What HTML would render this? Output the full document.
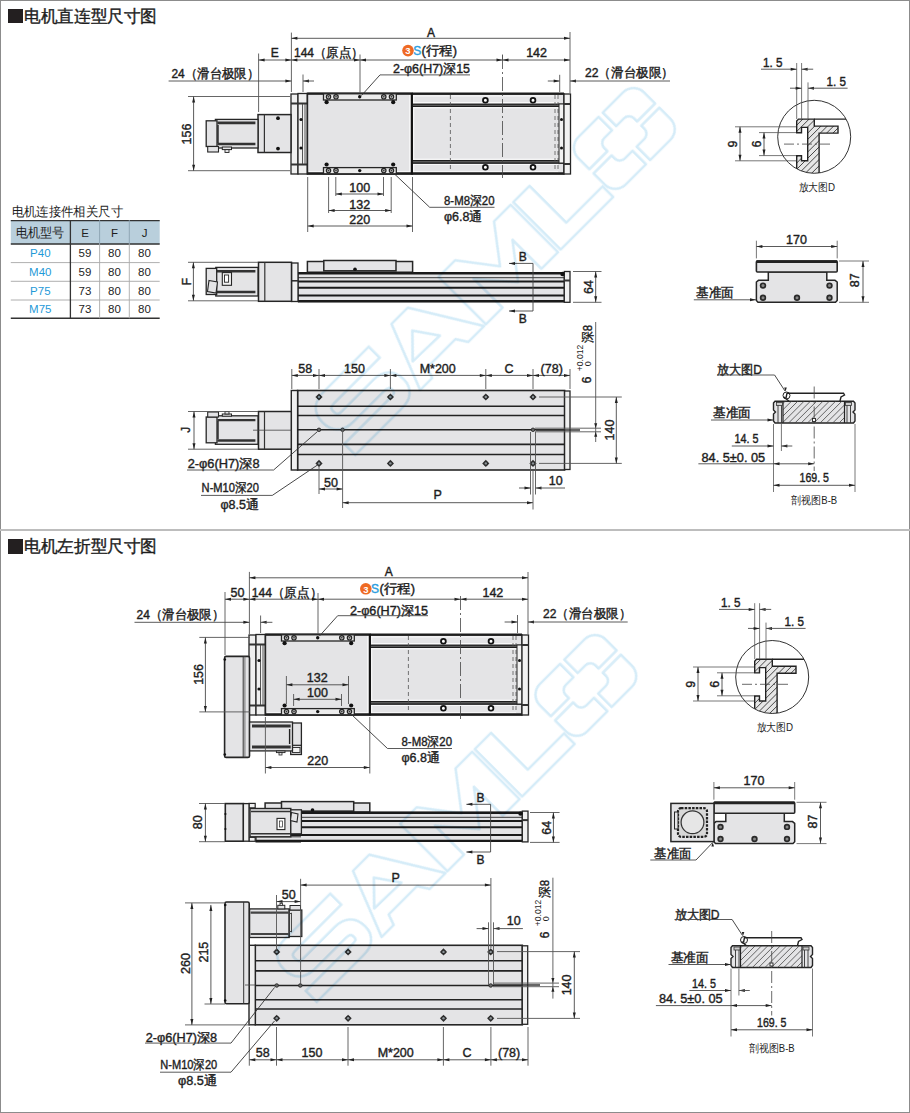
<!DOCTYPE html>
<html><head><meta charset="utf-8"><style>
html,body{margin:0;padding:0;background:#fff;}
svg{display:block;font-family:"Liberation Sans",sans-serif;}
</style></head><body>
<svg width="910" height="1113" viewBox="0 0 910 1113">
<rect x="0" y="0" width="910" height="1113" fill="#fff"/>
<rect x="0.5" y="0.5" width="909" height="1112" fill="none" stroke="#8c8c8c" stroke-width="1"/>
<rect x="0" y="529" width="910" height="2" fill="#bdbdbd"/>
<rect x="8" y="9" width="15" height="14" fill="#231f20"/>
<text x="24" y="21.94" font-size="16.5" text-anchor="start" fill="#1e1e1e" font-weight="normal" stroke="#1e1e1e" stroke-width="0.4" textLength="133" lengthAdjust="spacingAndGlyphs" >电机直连型尺寸图</text>
<rect x="8" y="539" width="15" height="15" fill="#231f20"/>
<text x="24" y="552.44" font-size="16.5" text-anchor="start" fill="#1e1e1e" font-weight="normal" stroke="#1e1e1e" stroke-width="0.4" textLength="133" lengthAdjust="spacingAndGlyphs" >电机左折型尺寸图</text>
<text x="11.6" y="215.50" font-size="12.5" text-anchor="start" fill="#1e1e1e" font-weight="normal" textLength="111.4" lengthAdjust="spacingAndGlyphs" >电机连接件相关尺寸</text>
<rect x="10.8" y="220.2" width="148.9" height="24" fill="#b9cfdc"/>
<line x1="10.8" y1="220.6" x2="159.7" y2="220.6" stroke="#333" stroke-width="1.4" />
<line x1="10.8" y1="244" x2="159.7" y2="244" stroke="#333" stroke-width="1.4" />
<line x1="10.8" y1="318.3" x2="159.7" y2="318.3" stroke="#333" stroke-width="1.4" />
<line x1="10.8" y1="262.6" x2="159.7" y2="262.6" stroke="#9a9a9a" stroke-width="0.8" />
<line x1="10.8" y1="281.3" x2="159.7" y2="281.3" stroke="#9a9a9a" stroke-width="0.8" />
<line x1="10.8" y1="300" x2="159.7" y2="300" stroke="#9a9a9a" stroke-width="0.8" />
<line x1="70.4" y1="220.2" x2="70.4" y2="318.3" stroke="#333" stroke-width="1.3" />
<line x1="99.6" y1="220.2" x2="99.6" y2="244" stroke="#8fa6b4" stroke-width="1.0" />
<line x1="99.6" y1="244" x2="99.6" y2="318.3" stroke="#aaa" stroke-width="0.9" />
<line x1="129.3" y1="220.2" x2="129.3" y2="244" stroke="#8fa6b4" stroke-width="1.0" />
<line x1="129.3" y1="244" x2="129.3" y2="318.3" stroke="#aaa" stroke-width="0.9" />
<text x="40.2" y="237.18" font-size="13" text-anchor="middle" fill="#1e1e1e" font-weight="normal" textLength="48.5" lengthAdjust="spacingAndGlyphs" >电机型号</text>
<text x="85" y="236.64" font-size="11.5" text-anchor="middle" fill="#1e1e1e" font-weight="normal" >E</text>
<text x="114.4" y="236.64" font-size="11.5" text-anchor="middle" fill="#1e1e1e" font-weight="normal" >F</text>
<text x="144.5" y="236.64" font-size="11.5" text-anchor="middle" fill="#1e1e1e" font-weight="normal" >J</text>
<text x="40.3" y="257.44" font-size="11.5" text-anchor="middle" fill="#1f9ad8" font-weight="normal" >P40</text>
<text x="85" y="257.44" font-size="11.5" text-anchor="middle" fill="#1e1e1e" font-weight="normal" >59</text>
<text x="114.4" y="257.44" font-size="11.5" text-anchor="middle" fill="#1e1e1e" font-weight="normal" >80</text>
<text x="144.5" y="257.44" font-size="11.5" text-anchor="middle" fill="#1e1e1e" font-weight="normal" >80</text>
<text x="40.3" y="276.14" font-size="11.5" text-anchor="middle" fill="#1f9ad8" font-weight="normal" >M40</text>
<text x="85" y="276.14" font-size="11.5" text-anchor="middle" fill="#1e1e1e" font-weight="normal" >59</text>
<text x="114.4" y="276.14" font-size="11.5" text-anchor="middle" fill="#1e1e1e" font-weight="normal" >80</text>
<text x="144.5" y="276.14" font-size="11.5" text-anchor="middle" fill="#1e1e1e" font-weight="normal" >80</text>
<text x="40.3" y="294.84" font-size="11.5" text-anchor="middle" fill="#1f9ad8" font-weight="normal" >P75</text>
<text x="85" y="294.84" font-size="11.5" text-anchor="middle" fill="#1e1e1e" font-weight="normal" >73</text>
<text x="114.4" y="294.84" font-size="11.5" text-anchor="middle" fill="#1e1e1e" font-weight="normal" >80</text>
<text x="144.5" y="294.84" font-size="11.5" text-anchor="middle" fill="#1e1e1e" font-weight="normal" >80</text>
<text x="40.3" y="313.34" font-size="11.5" text-anchor="middle" fill="#1f9ad8" font-weight="normal" >M75</text>
<text x="85" y="313.34" font-size="11.5" text-anchor="middle" fill="#1e1e1e" font-weight="normal" >73</text>
<text x="114.4" y="313.34" font-size="11.5" text-anchor="middle" fill="#1e1e1e" font-weight="normal" >80</text>
<text x="144.5" y="313.34" font-size="11.5" text-anchor="middle" fill="#1e1e1e" font-weight="normal" >80</text>
<rect x="412" y="94" width="152" height="80" fill="#e4e4e6" stroke="#262626" stroke-width="1.5" />
<line x1="413.5" y1="95.9" x2="558" y2="95.9" stroke="#fbfbfb" stroke-width="1.0" />
<line x1="413.5" y1="102.6" x2="558" y2="102.6" stroke="#fbfbfb" stroke-width="1.0" />
<line x1="413.5" y1="107.8" x2="558" y2="107.8" stroke="#fbfbfb" stroke-width="1.0" />
<line x1="413.5" y1="159.2" x2="558" y2="159.2" stroke="#fbfbfb" stroke-width="1.0" />
<line x1="413.5" y1="164.4" x2="558" y2="164.4" stroke="#fbfbfb" stroke-width="1.0" />
<line x1="413.5" y1="171.7" x2="558" y2="171.7" stroke="#fbfbfb" stroke-width="1.0" />
<line x1="413.7" y1="95" x2="413.7" y2="172.5" stroke="#fbfbfb" stroke-width="1.0" />
<rect x="412" y="103.7" width="152" height="3.3" fill="#5a5a5a" stroke="none" stroke-width="0" />
<line x1="412" y1="104.2" x2="564" y2="104.2" stroke="#1e1e1e" stroke-width="1.1" />
<line x1="412" y1="106.5" x2="564" y2="106.5" stroke="#1e1e1e" stroke-width="1.1" />
<rect x="412" y="160.0" width="152" height="3.6" fill="#5a5a5a" stroke="none" stroke-width="0" />
<line x1="412" y1="160.5" x2="564" y2="160.5" stroke="#1e1e1e" stroke-width="1.1" />
<line x1="412" y1="163.1" x2="564" y2="163.1" stroke="#1e1e1e" stroke-width="1.1" />
<line x1="412" y1="93.7" x2="564" y2="93.7" stroke="#1e1e1e" stroke-width="2.2" />
<line x1="412" y1="173.4" x2="564" y2="173.4" stroke="#1e1e1e" stroke-width="2.3" />
<line x1="450.4" y1="95" x2="450.4" y2="173" stroke="#555" stroke-width="0.8" stroke-dasharray="4,3"/>
<line x1="555" y1="95" x2="555" y2="173" stroke="#555" stroke-width="0.8" stroke-dasharray="4,3"/>
<line x1="558" y1="95" x2="558" y2="173" stroke="#555" stroke-width="0.8" stroke-dasharray="4,3"/>
<rect x="559" y="104" width="5" height="59" fill="#f2f2f2" stroke="#262626" stroke-width="1.0" />
<rect x="564" y="94" width="6.5" height="80" fill="#f2f2f2" stroke="#262626" stroke-width="1.3" />
<line x1="564" y1="104" x2="570.5" y2="104" stroke="#333" stroke-width="2" />
<line x1="564" y1="164" x2="570.5" y2="164" stroke="#333" stroke-width="2" />
<circle cx="561.5" cy="119.5" r="1.5" fill="#111" stroke="none" stroke-width="0"/>
<circle cx="561.5" cy="148" r="1.5" fill="#111" stroke="none" stroke-width="0"/>
<circle cx="485.4" cy="100.2" r="2.4" fill="#fff" stroke="#111" stroke-width="1.8"/>
<circle cx="485.4" cy="167.2" r="2.4" fill="#fff" stroke="#111" stroke-width="1.8"/>
<circle cx="533" cy="100.2" r="2.4" fill="#fff" stroke="#111" stroke-width="1.8"/>
<circle cx="533" cy="167.2" r="2.4" fill="#fff" stroke="#111" stroke-width="1.8"/>
<rect x="291" y="94" width="7" height="80" fill="#f0f0f0" stroke="#262626" stroke-width="1.3" />
<rect x="298" y="93.5" width="9.4" height="80.5" fill="#f0f0f0" stroke="#262626" stroke-width="1.3" />
<line x1="291" y1="103.5" x2="307.4" y2="103.5" stroke="#333" stroke-width="2" />
<line x1="291" y1="164.5" x2="307.4" y2="164.5" stroke="#333" stroke-width="2" />
<line x1="302.5" y1="104" x2="302.5" y2="164" stroke="#444" stroke-width="0.9" />
<line x1="305" y1="104" x2="305" y2="164" stroke="#444" stroke-width="0.9" />
<circle cx="301" cy="119.5" r="1.6" fill="#111" stroke="none" stroke-width="0"/>
<circle cx="301" cy="148" r="1.6" fill="#111" stroke="none" stroke-width="0"/>
<rect x="307.4" y="93.5" width="104.6" height="80.5" fill="#e4e4e6" stroke="#262626" stroke-width="1.6" />
<line x1="409.8" y1="95" x2="409.8" y2="172" stroke="#fbfbfb" stroke-width="1.0" />
<line x1="309" y1="171.7" x2="409.8" y2="171.7" stroke="#fbfbfb" stroke-width="1.0" />
<line x1="307.4" y1="93.7" x2="412.5" y2="93.7" stroke="#1e1e1e" stroke-width="2.2" />
<line x1="307.4" y1="173.4" x2="412.5" y2="173.4" stroke="#1e1e1e" stroke-width="2.3" />
<line x1="411.8" y1="93" x2="411.8" y2="174.3" stroke="#111" stroke-width="2.0" />
<rect x="323.5" y="93.8" width="72.8" height="6.2" fill="#ececec" stroke="#262626" stroke-width="1.3" />
<rect x="323.5" y="167.6" width="72.8" height="6.2" fill="#ececec" stroke="#262626" stroke-width="1.3" />
<circle cx="328.5" cy="96.8" r="2.2" fill="#bbb" stroke="#222" stroke-width="1.2"/>
<circle cx="328.5" cy="96.8" r="0.8" fill="#333" stroke="none" stroke-width="0"/>
<circle cx="328.5" cy="170.6" r="2.2" fill="#bbb" stroke="#222" stroke-width="1.2"/>
<circle cx="328.5" cy="170.6" r="0.8" fill="#333" stroke="none" stroke-width="0"/>
<circle cx="336" cy="96.8" r="2.2" fill="#bbb" stroke="#222" stroke-width="1.2"/>
<circle cx="336" cy="96.8" r="0.8" fill="#333" stroke="none" stroke-width="0"/>
<circle cx="336" cy="170.6" r="2.2" fill="#bbb" stroke="#222" stroke-width="1.2"/>
<circle cx="336" cy="170.6" r="0.8" fill="#333" stroke="none" stroke-width="0"/>
<circle cx="359.7" cy="96.8" r="1.7" fill="#111" stroke="none" stroke-width="0"/>
<circle cx="359.7" cy="170.6" r="1.7" fill="#111" stroke="none" stroke-width="0"/>
<circle cx="383.8" cy="96.8" r="2.2" fill="#bbb" stroke="#222" stroke-width="1.2"/>
<circle cx="383.8" cy="96.8" r="0.8" fill="#333" stroke="none" stroke-width="0"/>
<circle cx="383.8" cy="170.6" r="2.2" fill="#bbb" stroke="#222" stroke-width="1.2"/>
<circle cx="383.8" cy="170.6" r="0.8" fill="#333" stroke="none" stroke-width="0"/>
<circle cx="391.5" cy="96.8" r="2.2" fill="#bbb" stroke="#222" stroke-width="1.2"/>
<circle cx="391.5" cy="96.8" r="0.8" fill="#333" stroke="none" stroke-width="0"/>
<circle cx="391.5" cy="170.6" r="2.2" fill="#bbb" stroke="#222" stroke-width="1.2"/>
<circle cx="391.5" cy="170.6" r="0.8" fill="#333" stroke="none" stroke-width="0"/>
<circle cx="326.6" cy="102.2" r="2.1" fill="#111" stroke="none" stroke-width="0"/>
<circle cx="326.6" cy="164.5" r="2.1" fill="#111" stroke="none" stroke-width="0"/>
<circle cx="393.2" cy="102.2" r="2.1" fill="#111" stroke="none" stroke-width="0"/>
<circle cx="393.2" cy="164.5" r="2.1" fill="#111" stroke="none" stroke-width="0"/>
<line x1="502.5" y1="55" x2="502.5" y2="178" stroke="#444" stroke-width="0.8" stroke-dasharray="14,3,2,3"/>
<rect x="258" y="114.6" width="33" height="37.9" fill="#e4e4e6" stroke="#262626" stroke-width="1.5" />
<line x1="264.4" y1="114.6" x2="264.4" y2="152.5" stroke="#333" stroke-width="1.2" />
<circle cx="278" cy="118.2" r="1.9" fill="#111" stroke="none" stroke-width="0"/>
<circle cx="278" cy="148.6" r="1.9" fill="#111" stroke="none" stroke-width="0"/>
<rect x="215.4" y="119.4" width="42.6" height="28.6" fill="#e4e4e6" stroke="#262626" stroke-width="1.3" />
<line x1="217.5" y1="122.9" x2="255.4" y2="122.9" stroke="#333" stroke-width="2.6" />
<line x1="217.5" y1="144" x2="255.4" y2="144" stroke="#333" stroke-width="2.6" />
<line x1="218" y1="125" x2="218" y2="143" stroke="#222" stroke-width="1.4" />
<rect x="206.2" y="120.8" width="10.8" height="25.7" fill="#e4e4e6" stroke="#262626" stroke-width="1.3" />
<rect x="207.7" y="146.5" width="10.8" height="5.5" fill="#e4e4e6" stroke="#262626" stroke-width="1.1" />
<rect x="222.3" y="147" width="9.2" height="2.6" fill="#e4e4e6" stroke="#262626" stroke-width="1.0" />
<rect x="225" y="149.6" width="4" height="2.9" fill="#e4e4e6" stroke="#262626" stroke-width="0.9" />
<line x1="291.4" y1="32.6" x2="291.4" y2="92" stroke="#555" stroke-width="0.9" />
<line x1="570" y1="32" x2="570" y2="93" stroke="#555" stroke-width="0.9" />
<line x1="291.4" y1="38.3" x2="570" y2="38.3" stroke="#474747" stroke-width="0.9" />
<path d="M291.40,38.30 L297.40,36.80 L297.40,39.80 Z" fill="#222"/>
<path d="M570.00,38.30 L564.00,36.80 L564.00,39.80 Z" fill="#222"/>
<text x="431" y="36.52" font-size="12" text-anchor="middle" fill="#1e1e1e" font-weight="normal" stroke="#1e1e1e" stroke-width="0.4" >A</text>
<line x1="258.6" y1="53.5" x2="258.6" y2="112" stroke="#555" stroke-width="0.9" />
<line x1="258.6" y1="60" x2="291.4" y2="60" stroke="#474747" stroke-width="0.9" />
<path d="M258.60,60.00 L264.60,58.50 L264.60,61.50 Z" fill="#222"/>
<path d="M291.40,60.00 L285.40,58.50 L285.40,61.50 Z" fill="#222"/>
<text x="274.8" y="57.12" font-size="12" text-anchor="middle" fill="#1e1e1e" font-weight="normal" stroke="#1e1e1e" stroke-width="0.4" >E</text>
<line x1="360" y1="54.5" x2="360" y2="93" stroke="#555" stroke-width="0.9" />
<line x1="291.4" y1="60" x2="360" y2="60" stroke="#474747" stroke-width="0.9" />
<path d="M291.40,60.00 L297.40,58.50 L297.40,61.50 Z" fill="#222"/>
<path d="M360.00,60.00 L354.00,58.50 L354.00,61.50 Z" fill="#222"/>
<text x="294" y="57.30" font-size="12.5" text-anchor="start" fill="#1e1e1e" font-weight="normal" stroke="#1e1e1e" stroke-width="0.4" textLength="69.8" lengthAdjust="spacingAndGlyphs" >144（原点）</text>
<line x1="360" y1="60" x2="502.5" y2="60" stroke="#474747" stroke-width="0.9" />
<path d="M360.00,60.00 L366.00,58.50 L366.00,61.50 Z" fill="#222"/>
<path d="M502.50,60.00 L496.50,58.50 L496.50,61.50 Z" fill="#222"/>
<line x1="502.5" y1="54.5" x2="502.5" y2="60" stroke="#555" stroke-width="0.9" />
<circle cx="408" cy="50.6" r="5.8" fill="#ef6a23" stroke="none" stroke-width="0"/>
<text x="408" y="54.32" font-size="9.5" text-anchor="middle" fill="#fff" font-weight="bold" >3</text>
<text x="417.3" y="54.92" font-size="12" text-anchor="middle" fill="#2a9ee0" font-weight="normal" stroke="#2a9ee0" stroke-width="0.4" >S</text>
<text x="421.5" y="55.10" font-size="12.5" text-anchor="start" fill="#1e1e1e" font-weight="normal" stroke="#1e1e1e" stroke-width="0.4" textLength="35.5" lengthAdjust="spacingAndGlyphs" >(行程)</text>
<line x1="502.5" y1="60" x2="570" y2="60" stroke="#474747" stroke-width="0.9" />
<path d="M502.50,60.00 L508.50,58.50 L508.50,61.50 Z" fill="#222"/>
<path d="M570.00,60.00 L564.00,58.50 L564.00,61.50 Z" fill="#222"/>
<text x="536.6" y="57.30" font-size="12.5" text-anchor="middle" fill="#1e1e1e" font-weight="normal" stroke="#1e1e1e" stroke-width="0.4" >142</text>
<line x1="168.6" y1="81" x2="291.4" y2="81" stroke="#474747" stroke-width="0.9" />
<path d="M291.40,81.00 L285.40,79.50 L285.40,82.50 Z" fill="#222"/>
<line x1="303" y1="74.5" x2="303" y2="92" stroke="#555" stroke-width="0.9" />
<path d="M303.00,81.00 L309.00,79.50 L309.00,82.50 Z" fill="#222"/>
<line x1="303" y1="81" x2="314" y2="81" stroke="#474747" stroke-width="0.9" />
<text x="171.4" y="77.90" font-size="12.5" text-anchor="start" fill="#1e1e1e" font-weight="normal" stroke="#1e1e1e" stroke-width="0.4" textLength="87.8" lengthAdjust="spacingAndGlyphs" >24（滑台极限）</text>
<line x1="547.8" y1="81" x2="559.7" y2="81" stroke="#474747" stroke-width="0.9" />
<path d="M559.70,81.00 L553.70,79.50 L553.70,82.50 Z" fill="#222"/>
<line x1="559.7" y1="74.8" x2="559.7" y2="92" stroke="#555" stroke-width="0.9" />
<path d="M570.00,81.00 L576.00,79.50 L576.00,82.50 Z" fill="#222"/>
<line x1="570" y1="81" x2="670" y2="81" stroke="#474747" stroke-width="0.9" />
<text x="585" y="77.30" font-size="12.5" text-anchor="start" fill="#1e1e1e" font-weight="normal" stroke="#1e1e1e" stroke-width="0.4" textLength="88.8" lengthAdjust="spacingAndGlyphs" >22（滑台极限）</text>
<text x="393" y="72.80" font-size="12.5" text-anchor="start" fill="#1e1e1e" font-weight="normal" stroke="#1e1e1e" stroke-width="0.4" textLength="77" lengthAdjust="spacingAndGlyphs" >2-φ6(H7)深15</text>
<line x1="380" y1="74.9" x2="470" y2="74.9" stroke="#474747" stroke-width="0.9" />
<line x1="380" y1="74.9" x2="361.5" y2="95.5" stroke="#333" stroke-width="0.9" />
<path d="M361.50,95.50 L361.50,95.50 L361.50,95.50 Z" fill="#222"/>
<line x1="188" y1="96.5" x2="290" y2="96.5" stroke="#555" stroke-width="0.9" />
<line x1="188" y1="170.7" x2="290" y2="170.7" stroke="#555" stroke-width="0.9" />
<line x1="193.6" y1="96.5" x2="193.6" y2="170.7" stroke="#474747" stroke-width="0.9" />
<path d="M193.60,96.50 L192.10,102.50 L195.10,102.50 Z" fill="#222"/>
<path d="M193.60,170.70 L192.10,164.70 L195.10,164.70 Z" fill="#222"/>
<text x="186.6" y="138.50" font-size="12.5" text-anchor="middle" fill="#1e1e1e" font-weight="normal" stroke="#1e1e1e" stroke-width="0.4" transform="rotate(-90 186.6 134)" >156</text>
<line x1="335.8" y1="177" x2="335.8" y2="196" stroke="#555" stroke-width="0.9" />
<line x1="383.5" y1="177" x2="383.5" y2="196" stroke="#555" stroke-width="0.9" />
<line x1="328.6" y1="177" x2="328.6" y2="213" stroke="#555" stroke-width="0.9" />
<line x1="391.2" y1="177" x2="391.2" y2="213" stroke="#555" stroke-width="0.9" />
<line x1="307.7" y1="177" x2="307.7" y2="232" stroke="#555" stroke-width="0.9" />
<line x1="412.5" y1="177" x2="412.5" y2="232" stroke="#555" stroke-width="0.9" />
<line x1="335.8" y1="194" x2="383.5" y2="194" stroke="#474747" stroke-width="0.9" />
<path d="M335.80,194.00 L341.80,192.50 L341.80,195.50 Z" fill="#222"/>
<path d="M383.50,194.00 L377.50,192.50 L377.50,195.50 Z" fill="#222"/>
<text x="359.8" y="192.00" font-size="12.5" text-anchor="middle" fill="#1e1e1e" font-weight="normal" stroke="#1e1e1e" stroke-width="0.4" >100</text>
<line x1="328.6" y1="210.5" x2="391.2" y2="210.5" stroke="#474747" stroke-width="0.9" />
<path d="M328.60,210.50 L334.60,209.00 L334.60,212.00 Z" fill="#222"/>
<path d="M391.20,210.50 L385.20,209.00 L385.20,212.00 Z" fill="#222"/>
<text x="359.8" y="208.50" font-size="12.5" text-anchor="middle" fill="#1e1e1e" font-weight="normal" stroke="#1e1e1e" stroke-width="0.4" >132</text>
<line x1="307.7" y1="226" x2="412.5" y2="226" stroke="#474747" stroke-width="0.9" />
<path d="M307.70,226.00 L313.70,224.50 L313.70,227.50 Z" fill="#222"/>
<path d="M412.50,226.00 L406.50,224.50 L406.50,227.50 Z" fill="#222"/>
<text x="359.8" y="223.80" font-size="12.5" text-anchor="middle" fill="#1e1e1e" font-weight="normal" stroke="#1e1e1e" stroke-width="0.4" >220</text>
<text x="444" y="204.50" font-size="12.5" text-anchor="start" fill="#1e1e1e" font-weight="normal" stroke="#1e1e1e" stroke-width="0.4" textLength="50.5" lengthAdjust="spacingAndGlyphs" >8-M8深20</text>
<line x1="429.7" y1="207.3" x2="494.5" y2="207.3" stroke="#474747" stroke-width="0.9" />
<line x1="429.7" y1="207.3" x2="394" y2="173.5" stroke="#333" stroke-width="0.9" />
<text x="444" y="220.50" font-size="12.5" text-anchor="start" fill="#1e1e1e" font-weight="normal" stroke="#1e1e1e" stroke-width="0.4" textLength="38.4" lengthAdjust="spacingAndGlyphs" >φ6.8通</text>
<rect x="298" y="272.8" width="266.29999999999995" height="28.7" fill="#e4e4e6" stroke="#262626" stroke-width="1.2" />
<line x1="298" y1="273.2" x2="564.3" y2="273.2" stroke="#1a1a1a" stroke-width="2.4" />
<line x1="298" y1="277.7" x2="564.3" y2="277.7" stroke="#333" stroke-width="1.0" />
<line x1="298" y1="281.5" x2="564.3" y2="281.5" stroke="#1a1a1a" stroke-width="2.0" />
<line x1="298" y1="287.7" x2="564.3" y2="287.7" stroke="#1a1a1a" stroke-width="2.0" />
<line x1="298" y1="295.4" x2="564.3" y2="295.4" stroke="#1a1a1a" stroke-width="2.0" />
<line x1="298" y1="301.3" x2="564.3" y2="301.3" stroke="#1a1a1a" stroke-width="2.4" />
<rect x="564.3" y="271.5" width="5.7" height="30.8" fill="#f0f0f0" stroke="#262626" stroke-width="1.3" />
<line x1="564.3" y1="280.5" x2="570" y2="280.5" stroke="#333" stroke-width="2" />
<circle cx="562.5" cy="274" r="2.2" fill="#111" stroke="none" stroke-width="0"/>
<rect x="291.5" y="263" width="6.5" height="38.5" fill="#f0f0f0" stroke="#262626" stroke-width="1.3" />
<line x1="291.5" y1="280.8" x2="298" y2="280.8" stroke="#333" stroke-width="1.6" />
<rect x="307.4" y="261.5" width="105.2" height="11.3" fill="#e4e4e6" stroke="#262626" stroke-width="1.5" />
<rect x="323.8" y="260.5" width="72.2" height="10.3" fill="#e4e4e6" stroke="#262626" stroke-width="1.5" />
<circle cx="355" cy="269.2" r="1.8" fill="#111" stroke="none" stroke-width="0"/>
<line x1="307.4" y1="272.8" x2="412.6" y2="272.8" stroke="#1a1a1a" stroke-width="2.4" />
<rect x="258.5" y="262.3" width="33" height="39" fill="#e4e4e6" stroke="#262626" stroke-width="1.5" />
<line x1="264.8" y1="262.3" x2="264.8" y2="301.3" stroke="#333" stroke-width="1.2" />
<rect x="215.8" y="267.4" width="42.2" height="28.6" fill="#e4e4e6" stroke="#262626" stroke-width="1.3" />
<line x1="217" y1="271.3" x2="255.4" y2="271.3" stroke="#333" stroke-width="2.4" />
<line x1="217" y1="292" x2="255.4" y2="292" stroke="#333" stroke-width="2.4" />
<rect x="206.2" y="268.4" width="10.5" height="26.1" fill="#e4e4e6" stroke="#262626" stroke-width="1.3" />
<rect x="222.3" y="272.6" width="9.2" height="12.7" fill="#f4f4f4" stroke="#262626" stroke-width="1.1" />
<rect x="224.5" y="275" width="4.1" height="7.2" fill="#fff" stroke="#262626" stroke-width="0.9" />
<path d="M209,280.5 L217.5,282 L216,293 L207.5,291.5 Z" fill="#e4e4e6" stroke="#262626" stroke-width="1.1" />
<line x1="188" y1="262.3" x2="258" y2="262.3" stroke="#555" stroke-width="0.9" />
<line x1="188" y1="300.8" x2="258" y2="300.8" stroke="#555" stroke-width="0.9" />
<line x1="193.4" y1="262.3" x2="193.4" y2="300.8" stroke="#474747" stroke-width="0.9" />
<path d="M193.40,262.30 L191.90,268.30 L194.90,268.30 Z" fill="#222"/>
<path d="M193.40,300.80 L191.90,294.80 L194.90,294.80 Z" fill="#222"/>
<text x="186.5" y="285.82" font-size="12" text-anchor="middle" fill="#1e1e1e" font-weight="normal" stroke="#1e1e1e" stroke-width="0.4" transform="rotate(-90 186.5 281.5)" >F</text>
<line x1="573" y1="271.5" x2="601.5" y2="271.5" stroke="#555" stroke-width="0.9" />
<line x1="573" y1="302.3" x2="601.5" y2="302.3" stroke="#555" stroke-width="0.9" />
<line x1="595.7" y1="271.5" x2="595.7" y2="302.3" stroke="#474747" stroke-width="0.9" />
<path d="M595.70,271.50 L594.20,277.50 L597.20,277.50 Z" fill="#222"/>
<path d="M595.70,302.30 L594.20,296.30 L597.20,296.30 Z" fill="#222"/>
<text x="588.5" y="291.50" font-size="12.5" text-anchor="middle" fill="#1e1e1e" font-weight="normal" stroke="#1e1e1e" stroke-width="0.4" transform="rotate(-90 588.5 287)" >64</text>
<line x1="533" y1="263.4" x2="533" y2="311" stroke="#444" stroke-width="0.9" />
<line x1="509" y1="263.4" x2="533" y2="263.4" stroke="#444" stroke-width="0.9" />
<path d="M509.00,263.40 L515.00,261.90 L515.00,264.90 Z" fill="#222"/>
<line x1="509" y1="311" x2="533" y2="311" stroke="#444" stroke-width="0.9" />
<path d="M509.00,311.00 L515.00,309.50 L515.00,312.50 Z" fill="#222"/>
<text x="522.8" y="260.92" font-size="12" text-anchor="middle" fill="#1e1e1e" font-weight="normal" stroke="#1e1e1e" stroke-width="0.4" >B</text>
<text x="522.8" y="323.32" font-size="12" text-anchor="middle" fill="#1e1e1e" font-weight="normal" stroke="#1e1e1e" stroke-width="0.4" >B</text>
<rect x="297.6" y="390.5" width="267" height="79.5" fill="#e4e4e6" stroke="#262626" stroke-width="1.6" />
<rect x="291.3" y="390.5" width="6.3" height="79.5" fill="#f0f0f0" stroke="#262626" stroke-width="1.4" />
<rect x="564.6" y="391.0" width="5.4" height="78.5" fill="#f0f0f0" stroke="#262626" stroke-width="1.3" />
<line x1="297.6" y1="406.3" x2="564.6" y2="406.3" stroke="#222" stroke-width="1.6" />
<line x1="297.6" y1="415.5" x2="564.6" y2="415.5" stroke="#222" stroke-width="1.6" />
<line x1="297.6" y1="429.8" x2="564.6" y2="429.8" stroke="#222" stroke-width="1.6" />
<line x1="297.6" y1="444.4" x2="564.6" y2="444.4" stroke="#222" stroke-width="1.6" />
<line x1="297.6" y1="454.5" x2="564.6" y2="454.5" stroke="#222" stroke-width="1.6" />
<path d="M319,393.4 L322.6,397 L319,400.6 L315.4,397 Z" fill="#333"/>
<circle cx="319" cy="397" r="2.2" fill="#2a2a2a" stroke="none" stroke-width="0"/>
<circle cx="319" cy="397" r="1.2" fill="#8a9296" stroke="none" stroke-width="0"/>
<path d="M319,459.79999999999995 L322.6,463.4 L319,467.0 L315.4,463.4 Z" fill="#333"/>
<circle cx="319" cy="463.4" r="2.2" fill="#2a2a2a" stroke="none" stroke-width="0"/>
<circle cx="319" cy="463.4" r="1.2" fill="#8a9296" stroke="none" stroke-width="0"/>
<path d="M390.4,393.4 L394.0,397 L390.4,400.6 L386.79999999999995,397 Z" fill="#333"/>
<circle cx="390.4" cy="397" r="2.2" fill="#2a2a2a" stroke="none" stroke-width="0"/>
<circle cx="390.4" cy="397" r="1.2" fill="#8a9296" stroke="none" stroke-width="0"/>
<path d="M390.4,459.79999999999995 L394.0,463.4 L390.4,467.0 L386.79999999999995,463.4 Z" fill="#333"/>
<circle cx="390.4" cy="463.4" r="2.2" fill="#2a2a2a" stroke="none" stroke-width="0"/>
<circle cx="390.4" cy="463.4" r="1.2" fill="#8a9296" stroke="none" stroke-width="0"/>
<path d="M485.8,393.4 L489.40000000000003,397 L485.8,400.6 L482.2,397 Z" fill="#333"/>
<circle cx="485.8" cy="397" r="2.2" fill="#2a2a2a" stroke="none" stroke-width="0"/>
<circle cx="485.8" cy="397" r="1.2" fill="#8a9296" stroke="none" stroke-width="0"/>
<path d="M485.8,459.79999999999995 L489.40000000000003,463.4 L485.8,467.0 L482.2,463.4 Z" fill="#333"/>
<circle cx="485.8" cy="463.4" r="2.2" fill="#2a2a2a" stroke="none" stroke-width="0"/>
<circle cx="485.8" cy="463.4" r="1.2" fill="#8a9296" stroke="none" stroke-width="0"/>
<path d="M533,393.4 L536.6,397 L533,400.6 L529.4,397 Z" fill="#333"/>
<circle cx="533" cy="397" r="2.2" fill="#2a2a2a" stroke="none" stroke-width="0"/>
<circle cx="533" cy="397" r="1.2" fill="#8a9296" stroke="none" stroke-width="0"/>
<path d="M533,459.79999999999995 L536.6,463.4 L533,467.0 L529.4,463.4 Z" fill="#333"/>
<circle cx="533" cy="463.4" r="2.2" fill="#2a2a2a" stroke="none" stroke-width="0"/>
<circle cx="533" cy="463.4" r="1.2" fill="#8a9296" stroke="none" stroke-width="0"/>
<circle cx="319" cy="429.8" r="1.8" fill="#666" stroke="#222" stroke-width="0.8"/>
<circle cx="342.6" cy="429.8" r="1.8" fill="#666" stroke="#222" stroke-width="0.8"/>
<circle cx="533" cy="429.8" r="1.8" fill="#666" stroke="#222" stroke-width="0.8"/>
<rect x="258.5" y="411.5" width="32.8" height="37.7" fill="#e4e4e6" stroke="#262626" stroke-width="1.5" />
<line x1="264.5" y1="411.5" x2="264.5" y2="449.2" stroke="#333" stroke-width="1.2" />
<rect x="215.4" y="415.8" width="42.6" height="28.5" fill="#e4e4e6" stroke="#262626" stroke-width="1.3" />
<line x1="217.5" y1="420.1" x2="255.4" y2="420.1" stroke="#333" stroke-width="2.4" />
<line x1="217.5" y1="440.5" x2="255.4" y2="440.5" stroke="#333" stroke-width="2.4" />
<line x1="218" y1="421" x2="218" y2="439" stroke="#222" stroke-width="1.4" />
<rect x="206.2" y="417" width="10.8" height="25.8" fill="#e4e4e6" stroke="#262626" stroke-width="1.3" />
<rect x="207.7" y="412" width="10.8" height="5" fill="#e4e4e6" stroke="#262626" stroke-width="1.1" />
<rect x="222.3" y="414" width="9.2" height="2.2" fill="#e4e4e6" stroke="#262626" stroke-width="1.0" />
<rect x="225" y="411.5" width="4" height="2.5" fill="#e4e4e6" stroke="#262626" stroke-width="0.9" />
<line x1="253" y1="430.2" x2="291.3" y2="430.2" stroke="#444" stroke-width="0.8" />
<line x1="291.8" y1="369" x2="291.8" y2="389" stroke="#555" stroke-width="0.9" />
<line x1="319" y1="369" x2="319" y2="389" stroke="#555" stroke-width="0.9" />
<line x1="390.4" y1="369" x2="390.4" y2="389" stroke="#555" stroke-width="0.9" />
<line x1="485.8" y1="369" x2="485.8" y2="389" stroke="#555" stroke-width="0.9" />
<line x1="533" y1="369" x2="533" y2="389" stroke="#555" stroke-width="0.9" />
<line x1="570" y1="369" x2="570" y2="389" stroke="#555" stroke-width="0.9" />
<line x1="291.8" y1="375.4" x2="319" y2="375.4" stroke="#474747" stroke-width="0.9" />
<path d="M291.80,375.40 L297.80,373.90 L297.80,376.90 Z" fill="#222"/>
<path d="M319.00,375.40 L313.00,373.90 L313.00,376.90 Z" fill="#222"/>
<text x="305.2" y="372.80" font-size="12.5" text-anchor="middle" fill="#1e1e1e" font-weight="normal" stroke="#1e1e1e" stroke-width="0.4" >58</text>
<line x1="319" y1="375.4" x2="390.4" y2="375.4" stroke="#474747" stroke-width="0.9" />
<path d="M319.00,375.40 L325.00,373.90 L325.00,376.90 Z" fill="#222"/>
<path d="M390.40,375.40 L384.40,373.90 L384.40,376.90 Z" fill="#222"/>
<text x="354.5" y="372.80" font-size="12.5" text-anchor="middle" fill="#1e1e1e" font-weight="normal" stroke="#1e1e1e" stroke-width="0.4" >150</text>
<line x1="390.4" y1="375.4" x2="485.8" y2="375.4" stroke="#474747" stroke-width="0.9" />
<path d="M390.40,375.40 L396.40,373.90 L396.40,376.90 Z" fill="#222"/>
<path d="M485.80,375.40 L479.80,373.90 L479.80,376.90 Z" fill="#222"/>
<text x="437.7" y="372.80" font-size="12.5" text-anchor="middle" fill="#1e1e1e" font-weight="normal" stroke="#1e1e1e" stroke-width="0.4" >M*200</text>
<line x1="485.8" y1="375.4" x2="533" y2="375.4" stroke="#474747" stroke-width="0.9" />
<path d="M485.80,375.40 L491.80,373.90 L491.80,376.90 Z" fill="#222"/>
<path d="M533.00,375.40 L527.00,373.90 L527.00,376.90 Z" fill="#222"/>
<text x="509" y="372.80" font-size="12.5" text-anchor="middle" fill="#1e1e1e" font-weight="normal" stroke="#1e1e1e" stroke-width="0.4" >C</text>
<line x1="533" y1="375.4" x2="570" y2="375.4" stroke="#474747" stroke-width="0.9" />
<path d="M533.00,375.40 L539.00,373.90 L539.00,376.90 Z" fill="#222"/>
<path d="M570.00,375.40 L564.00,373.90 L564.00,376.90 Z" fill="#222"/>
<text x="551.7" y="372.80" font-size="12.5" text-anchor="middle" fill="#1e1e1e" font-weight="normal" stroke="#1e1e1e" stroke-width="0.4" >(78)</text>
<line x1="188" y1="411.5" x2="258" y2="411.5" stroke="#555" stroke-width="0.9" />
<line x1="188" y1="449.2" x2="258" y2="449.2" stroke="#555" stroke-width="0.9" />
<line x1="194" y1="411.5" x2="194" y2="449.2" stroke="#474747" stroke-width="0.9" />
<path d="M194.00,411.50 L192.50,417.50 L195.50,417.50 Z" fill="#222"/>
<path d="M194.00,449.20 L192.50,443.20 L195.50,443.20 Z" fill="#222"/>
<text x="185.7" y="434.02" font-size="12" text-anchor="middle" fill="#1e1e1e" font-weight="normal" stroke="#1e1e1e" stroke-width="0.4" transform="rotate(-90 185.7 429.7)" >J</text>
<text x="187.7" y="468.30" font-size="12.5" text-anchor="start" fill="#1e1e1e" font-weight="normal" stroke="#1e1e1e" stroke-width="0.4" textLength="72.0" lengthAdjust="spacingAndGlyphs" >2-φ6(H7)深8</text>
<line x1="187" y1="470" x2="273.6" y2="470" stroke="#474747" stroke-width="0.9" />
<line x1="273.6" y1="470" x2="317.5" y2="431.5" stroke="#333" stroke-width="0.9" />
<text x="201.6" y="492.30" font-size="12.5" text-anchor="start" fill="#1e1e1e" font-weight="normal" stroke="#1e1e1e" stroke-width="0.4" textLength="57.4" lengthAdjust="spacingAndGlyphs" >N-M10深20</text>
<line x1="201" y1="495.4" x2="272.3" y2="495.4" stroke="#474747" stroke-width="0.9" />
<line x1="272.3" y1="495.4" x2="317.5" y2="465" stroke="#333" stroke-width="0.9" />
<text x="220.5" y="508.80" font-size="12.5" text-anchor="start" fill="#1e1e1e" font-weight="normal" stroke="#1e1e1e" stroke-width="0.4" textLength="38.5" lengthAdjust="spacingAndGlyphs" >φ8.5通</text>
<line x1="319" y1="466" x2="319" y2="494" stroke="#555" stroke-width="0.9" />
<line x1="342.6" y1="432" x2="342.6" y2="508" stroke="#555" stroke-width="0.9" />
<line x1="319" y1="489" x2="342.6" y2="489" stroke="#474747" stroke-width="0.9" />
<path d="M319.00,489.00 L325.00,487.50 L325.00,490.50 Z" fill="#222"/>
<path d="M342.60,489.00 L336.60,487.50 L336.60,490.50 Z" fill="#222"/>
<text x="331" y="486.80" font-size="12.5" text-anchor="middle" fill="#1e1e1e" font-weight="normal" stroke="#1e1e1e" stroke-width="0.4" >50</text>
<line x1="342.6" y1="502.7" x2="533" y2="502.7" stroke="#474747" stroke-width="0.9" />
<path d="M342.60,502.70 L348.60,501.20 L348.60,504.20 Z" fill="#222"/>
<path d="M533.00,502.70 L527.00,501.20 L527.00,504.20 Z" fill="#222"/>
<text x="437.7" y="499.00" font-size="12.5" text-anchor="middle" fill="#1e1e1e" font-weight="normal" stroke="#1e1e1e" stroke-width="0.4" >P</text>
<line x1="533" y1="470.5" x2="533" y2="509.5" stroke="#555" stroke-width="0.9" />
<line x1="530.5" y1="432" x2="530.5" y2="494.5" stroke="#555" stroke-width="0.9" />
<line x1="535.5" y1="432" x2="535.5" y2="494.5" stroke="#555" stroke-width="0.9" />
<line x1="519" y1="488" x2="530.5" y2="488" stroke="#474747" stroke-width="0.9" />
<path d="M530.50,488.00 L524.50,486.50 L524.50,489.50 Z" fill="#222"/>
<path d="M535.50,488.00 L541.50,486.50 L541.50,489.50 Z" fill="#222"/>
<line x1="535.5" y1="488" x2="565" y2="488" stroke="#474747" stroke-width="0.9" />
<text x="555.8" y="485.20" font-size="12.5" text-anchor="middle" fill="#1e1e1e" font-weight="normal" stroke="#1e1e1e" stroke-width="0.4" >10</text>
<line x1="539" y1="397" x2="621.8" y2="397" stroke="#555" stroke-width="0.9" />
<line x1="539" y1="463.4" x2="621.8" y2="463.4" stroke="#555" stroke-width="0.9" />
<line x1="616.3" y1="397" x2="616.3" y2="463.4" stroke="#474747" stroke-width="0.9" />
<path d="M616.30,397.00 L614.80,403.00 L617.80,403.00 Z" fill="#222"/>
<path d="M616.30,463.40 L614.80,457.40 L617.80,457.40 Z" fill="#222"/>
<text x="609.4" y="434.50" font-size="12.5" text-anchor="middle" fill="#1e1e1e" font-weight="normal" stroke="#1e1e1e" stroke-width="0.4" transform="rotate(-90 609.4 430)" >140</text>
<line x1="595.7" y1="322" x2="595.7" y2="442" stroke="#555" stroke-width="0.9" />
<line x1="535" y1="428.2" x2="601" y2="428.2" stroke="#555" stroke-width="0.9" />
<line x1="535" y1="431.8" x2="601" y2="431.8" stroke="#555" stroke-width="0.9" />
<line x1="536" y1="430" x2="580" y2="430" stroke="#333" stroke-width="1.4" />
<path d="M595.70,428.20 L594.20,423.20 L597.20,423.20 Z" fill="#222"/>
<path d="M595.70,431.80 L594.20,436.80 L597.20,436.80 Z" fill="#222"/>
<text x="586.9" y="384.50" font-size="12.5" text-anchor="middle" fill="#1e1e1e" font-weight="normal" stroke="#1e1e1e" stroke-width="0.4" transform="rotate(-90 586.9 380)" >6</text>
<text x="580.2" y="361.17" font-size="8.8" text-anchor="middle" fill="#1e1e1e" font-weight="normal" textLength="26.4" lengthAdjust="spacingAndGlyphs" transform="rotate(-90 580.2 358)" >+0.012</text>
<text x="588.2" y="366.94" font-size="9" text-anchor="middle" fill="#1e1e1e" font-weight="normal" transform="rotate(-90 588.2 363.7)" >0</text>
<text x="587" y="338.50" font-size="12.5" text-anchor="middle" fill="#1e1e1e" font-weight="normal" stroke="#1e1e1e" stroke-width="0.4" textLength="18.2" lengthAdjust="spacingAndGlyphs" transform="rotate(-90 587 334)" >深8</text>
<clipPath id="clipD0_0"><circle cx="814.2" cy="136.8" r="36.5"/></clipPath>
<g clip-path="url(#clipD0_0)">
<clipPath id="pD0_0"><path d="M796.7,121 L798.5,119.1 L814.3,119.1 L814.3,126.1 L838,126.1 L838,133.1 L819.1,133.1 L819.1,175 L796.7,175 L796.7,155.8 L801.5,155.8 L801.5,160.8 L807.7,160.8 L807.7,127.4 L801.5,127.4 L801.5,132.7 L796.7,132.7 Z"/></clipPath>
<path d="M796.7,121 L798.5,119.1 L814.3,119.1 L814.3,126.1 L838,126.1 L838,133.1 L819.1,133.1 L819.1,175 L796.7,175 L796.7,155.8 L801.5,155.8 L801.5,160.8 L807.7,160.8 L807.7,127.4 L801.5,127.4 L801.5,132.7 L796.7,132.7 Z" fill="#e6e6e6" stroke="none"/>
<g clip-path="url(#pD0_0)">
<line x1="727.0" y1="176" x2="787.0" y2="116" stroke="#333" stroke-width="0.9"/>
<line x1="733.3" y1="176" x2="793.3" y2="116" stroke="#333" stroke-width="0.9"/>
<line x1="739.6" y1="176" x2="799.6" y2="116" stroke="#333" stroke-width="0.9"/>
<line x1="745.9" y1="176" x2="805.9" y2="116" stroke="#333" stroke-width="0.9"/>
<line x1="752.2" y1="176" x2="812.2" y2="116" stroke="#333" stroke-width="0.9"/>
<line x1="758.5" y1="176" x2="818.5" y2="116" stroke="#333" stroke-width="0.9"/>
<line x1="764.8" y1="176" x2="824.8" y2="116" stroke="#333" stroke-width="0.9"/>
<line x1="771.1" y1="176" x2="831.1" y2="116" stroke="#333" stroke-width="0.9"/>
<line x1="777.4" y1="176" x2="837.4" y2="116" stroke="#333" stroke-width="0.9"/>
<line x1="783.7" y1="176" x2="843.7" y2="116" stroke="#333" stroke-width="0.9"/>
<line x1="790.0" y1="176" x2="850.0" y2="116" stroke="#333" stroke-width="0.9"/>
<line x1="796.3" y1="176" x2="856.3" y2="116" stroke="#333" stroke-width="0.9"/>
<line x1="802.6" y1="176" x2="862.6" y2="116" stroke="#333" stroke-width="0.9"/>
<line x1="808.9" y1="176" x2="868.9" y2="116" stroke="#333" stroke-width="0.9"/>
<line x1="815.2" y1="176" x2="875.2" y2="116" stroke="#333" stroke-width="0.9"/>
<line x1="821.5" y1="176" x2="881.5" y2="116" stroke="#333" stroke-width="0.9"/>
<line x1="827.8" y1="176" x2="887.8" y2="116" stroke="#333" stroke-width="0.9"/>
<line x1="834.1" y1="176" x2="894.1" y2="116" stroke="#333" stroke-width="0.9"/>
<line x1="840.4" y1="176" x2="900.4" y2="116" stroke="#333" stroke-width="0.9"/>
<line x1="846.7" y1="176" x2="906.7" y2="116" stroke="#333" stroke-width="0.9"/>
<line x1="853.0" y1="176" x2="913.0" y2="116" stroke="#333" stroke-width="0.9"/>
<line x1="859.3" y1="176" x2="919.3" y2="116" stroke="#333" stroke-width="0.9"/>
</g>
<path d="M796.7,121 L798.5,119.1 L814.3,119.1 L814.3,126.1 L838,126.1 L838,133.1 L819.1,133.1 L819.1,175 L796.7,175 L796.7,155.8 L801.5,155.8 L801.5,160.8 L807.7,160.8 L807.7,127.4 L801.5,127.4 L801.5,132.7 L796.7,132.7 Z" fill="none" stroke="#222" stroke-width="1.4"/>
<line x1="814.3" y1="119.1" x2="852" y2="119.1" stroke="#222" stroke-width="1.4" />
<line x1="784" y1="144.1" x2="831" y2="144.1" stroke="#444" stroke-width="0.8" stroke-dasharray="10,3,2,3"/>
</g>
<circle cx="814.2" cy="136.8" r="36.5" fill="none" stroke="#333" stroke-width="1.0"/>
<line x1="796.7" y1="63" x2="796.7" y2="119" stroke="#555" stroke-width="0.8" />
<line x1="801.6" y1="63" x2="801.6" y2="119" stroke="#555" stroke-width="0.8" />
<line x1="808" y1="82.4" x2="808" y2="119" stroke="#555" stroke-width="0.8" />
<line x1="735" y1="126.8" x2="796" y2="126.8" stroke="#555" stroke-width="0.8" />
<line x1="735" y1="160.8" x2="796" y2="160.8" stroke="#555" stroke-width="0.8" />
<line x1="759" y1="132.6" x2="796" y2="132.6" stroke="#555" stroke-width="0.8" />
<line x1="759" y1="155.6" x2="796" y2="155.6" stroke="#555" stroke-width="0.8" />
<line x1="740" y1="126.8" x2="740" y2="160.8" stroke="#474747" stroke-width="0.9" />
<path d="M740.00,126.80 L738.50,132.80 L741.50,132.80 Z" fill="#222"/>
<path d="M740.00,160.80 L738.50,154.80 L741.50,154.80 Z" fill="#222"/>
<text x="732.8" y="148.50" font-size="12.5" text-anchor="middle" fill="#1e1e1e" font-weight="normal" stroke="#1e1e1e" stroke-width="0.4" transform="rotate(-90 732.8 144)" >9</text>
<line x1="764" y1="132.6" x2="764" y2="155.6" stroke="#474747" stroke-width="0.9" />
<path d="M764.00,132.60 L762.50,138.60 L765.50,138.60 Z" fill="#222"/>
<path d="M764.00,155.60 L762.50,149.60 L765.50,149.60 Z" fill="#222"/>
<text x="756.8" y="148.50" font-size="12.5" text-anchor="middle" fill="#1e1e1e" font-weight="normal" stroke="#1e1e1e" stroke-width="0.4" transform="rotate(-90 756.8 144)" >6</text>
<line x1="761" y1="69.2" x2="796.7" y2="69.2" stroke="#474747" stroke-width="0.9" />
<path d="M796.70,69.20 L790.70,67.70 L790.70,70.70 Z" fill="#222"/>
<path d="M801.60,69.20 L807.60,67.70 L807.60,70.70 Z" fill="#222"/>
<line x1="801.6" y1="69.2" x2="813.2" y2="69.2" stroke="#474747" stroke-width="0.9" />
<text x="763" y="66.50" font-size="12.5" text-anchor="start" fill="#1e1e1e" font-weight="normal" stroke="#1e1e1e" stroke-width="0.4" textLength="19.5" lengthAdjust="spacingAndGlyphs" >1. 5</text>
<line x1="790" y1="88.2" x2="801.6" y2="88.2" stroke="#474747" stroke-width="0.9" />
<path d="M801.60,88.20 L795.60,86.70 L795.60,89.70 Z" fill="#222"/>
<path d="M808.00,88.20 L814.00,86.70 L814.00,89.70 Z" fill="#222"/>
<line x1="808" y1="88.2" x2="847.6" y2="88.2" stroke="#474747" stroke-width="0.9" />
<text x="826.5" y="85.50" font-size="12.5" text-anchor="start" fill="#1e1e1e" font-weight="normal" stroke="#1e1e1e" stroke-width="0.4" textLength="19.5" lengthAdjust="spacingAndGlyphs" >1. 5</text>
<text x="798.6" y="190.76" font-size="11" text-anchor="start" fill="#1e1e1e" font-weight="normal" textLength="36.4" lengthAdjust="spacingAndGlyphs" >放大图D</text>
<line x1="756.4" y1="240.7" x2="756.4" y2="258.4" stroke="#555" stroke-width="0.8" />
<line x1="837.2" y1="240.7" x2="837.2" y2="258.4" stroke="#555" stroke-width="0.8" />
<line x1="756.4" y1="246.5" x2="837.2" y2="246.5" stroke="#474747" stroke-width="0.9" />
<path d="M756.40,246.50 L762.40,245.00 L762.40,248.00 Z" fill="#222"/>
<path d="M837.20,246.50 L831.20,245.00 L831.20,248.00 Z" fill="#222"/>
<text x="796.5" y="244.10" font-size="12.5" text-anchor="middle" fill="#1e1e1e" font-weight="normal" stroke="#1e1e1e" stroke-width="0.4" >170</text>
<path d="M756.4,282 L758.5,280.3 L768.3,280.3 L768.3,272 L826.8,272 L826.8,280.3 L835,280.3 L837.2,282 L837.2,300.5 L835.5,302.3 L758,302.3 L756.4,300.5 Z" fill="#e4e4e6" stroke="#262626" stroke-width="1.5" />
<rect x="756.4" y="261" width="80.8" height="11" fill="#e4e4e6" stroke="#262626" stroke-width="1.6" rx="1"/>
<line x1="756.4" y1="261.6" x2="837.2" y2="261.6" stroke="#222" stroke-width="2.6" />
<circle cx="763" cy="285.6" r="3.2" fill="#2a2a2a" stroke="none" stroke-width="0"/>
<circle cx="763" cy="285.6" r="1.5" fill="#888" stroke="none" stroke-width="0"/>
<circle cx="829.5" cy="285.6" r="3.2" fill="#2a2a2a" stroke="none" stroke-width="0"/>
<circle cx="829.5" cy="285.6" r="1.5" fill="#888" stroke="none" stroke-width="0"/>
<circle cx="763" cy="297.7" r="3.2" fill="#2a2a2a" stroke="none" stroke-width="0"/>
<circle cx="763" cy="297.7" r="1.5" fill="#888" stroke="none" stroke-width="0"/>
<circle cx="797" cy="297.7" r="3.2" fill="#2a2a2a" stroke="none" stroke-width="0"/>
<circle cx="797" cy="297.7" r="1.5" fill="#888" stroke="none" stroke-width="0"/>
<circle cx="829.5" cy="297.7" r="3.2" fill="#2a2a2a" stroke="none" stroke-width="0"/>
<circle cx="829.5" cy="297.7" r="1.5" fill="#888" stroke="none" stroke-width="0"/>
<line x1="839" y1="261" x2="869" y2="261" stroke="#555" stroke-width="0.8" />
<line x1="839" y1="302.3" x2="869" y2="302.3" stroke="#555" stroke-width="0.8" />
<line x1="863" y1="261" x2="863" y2="302.3" stroke="#474747" stroke-width="0.9" />
<path d="M863.00,261.00 L861.50,267.00 L864.50,267.00 Z" fill="#222"/>
<path d="M863.00,302.30 L861.50,296.30 L864.50,296.30 Z" fill="#222"/>
<text x="855" y="284.80" font-size="12.5" text-anchor="middle" fill="#1e1e1e" font-weight="normal" stroke="#1e1e1e" stroke-width="0.4" transform="rotate(-90 855 280.3)" >87</text>
<path d="M773.5,403 L775,401.2 L853.5,401.2 L855,403 L855,410 L853,412 L855,414 L855,421 L853.5,423 L775,423 L773.5,421 L773.5,414 L775.5,412 L773.5,410 Z" fill="#e4e4e6" stroke="#262626" stroke-width="1.4" />
<clipPath id="hBB0_0"><rect x="783" y="401.2" width="61.5" height="21.8"/></clipPath>
<g clip-path="url(#hBB0_0)">
<line x1="749.8" y1="424" x2="772.8" y2="401" stroke="#444" stroke-width="0.8"/>
<line x1="756.1" y1="424" x2="779.1" y2="401" stroke="#444" stroke-width="0.8"/>
<line x1="762.4" y1="424" x2="785.4" y2="401" stroke="#444" stroke-width="0.8"/>
<line x1="768.7" y1="424" x2="791.7" y2="401" stroke="#444" stroke-width="0.8"/>
<line x1="775.0" y1="424" x2="798.0" y2="401" stroke="#444" stroke-width="0.8"/>
<line x1="781.3" y1="424" x2="804.3" y2="401" stroke="#444" stroke-width="0.8"/>
<line x1="787.6" y1="424" x2="810.6" y2="401" stroke="#444" stroke-width="0.8"/>
<line x1="793.9" y1="424" x2="816.9" y2="401" stroke="#444" stroke-width="0.8"/>
<line x1="800.2" y1="424" x2="823.2" y2="401" stroke="#444" stroke-width="0.8"/>
<line x1="806.5" y1="424" x2="829.5" y2="401" stroke="#444" stroke-width="0.8"/>
<line x1="812.8" y1="424" x2="835.8" y2="401" stroke="#444" stroke-width="0.8"/>
<line x1="819.1" y1="424" x2="842.1" y2="401" stroke="#444" stroke-width="0.8"/>
<line x1="825.4" y1="424" x2="848.4" y2="401" stroke="#444" stroke-width="0.8"/>
<line x1="831.7" y1="424" x2="854.7" y2="401" stroke="#444" stroke-width="0.8"/>
<line x1="838.0" y1="424" x2="861.0" y2="401" stroke="#444" stroke-width="0.8"/>
<line x1="844.3" y1="424" x2="867.3" y2="401" stroke="#444" stroke-width="0.8"/>
<line x1="850.6" y1="424" x2="873.6" y2="401" stroke="#444" stroke-width="0.8"/>
<line x1="856.9" y1="424" x2="879.9" y2="401" stroke="#444" stroke-width="0.8"/>
</g>
<line x1="783" y1="401.2" x2="783" y2="423" stroke="#222" stroke-width="1.2" />
<line x1="844.5" y1="401.2" x2="844.5" y2="423" stroke="#222" stroke-width="1.2" />
<line x1="778" y1="405" x2="778" y2="423" stroke="#333" stroke-width="0.9" />
<line x1="781.5" y1="405" x2="781.5" y2="423" stroke="#333" stroke-width="0.9" />
<line x1="847" y1="405" x2="847" y2="423" stroke="#333" stroke-width="0.9" />
<line x1="850.5" y1="405" x2="850.5" y2="423" stroke="#333" stroke-width="0.9" />
<rect x="776.5" y="402.5" width="6" height="3" fill="#ccc" stroke="#333" stroke-width="0.8" />
<rect x="845.5" y="402.5" width="6" height="3" fill="#ccc" stroke="#333" stroke-width="0.8" />
<rect x="812.5" y="418.5" width="3" height="3" fill="#fff" stroke="#222" stroke-width="0.9" />
<path d="M786,398 L787,393.2 L843.5,393.2 L844.5,395 L841,397 L840,401" fill="none" stroke="#222" stroke-width="1.4" />
<circle cx="786.5" cy="395.5" r="3.5" fill="none" stroke="#222" stroke-width="1.0"/>
<line x1="784" y1="397" x2="789" y2="401.2" stroke="#222" stroke-width="1.4" />
<line x1="814.2" y1="386.5" x2="814.2" y2="471" stroke="#444" stroke-width="0.8" stroke-dasharray="12,3,2,3"/>
<text x="717" y="374.48" font-size="13" text-anchor="start" fill="#1e1e1e" font-weight="normal" stroke="#1e1e1e" stroke-width="0.4" textLength="45" lengthAdjust="spacingAndGlyphs" >放大图D</text>
<line x1="717" y1="375" x2="774.6" y2="375" stroke="#474747" stroke-width="0.9" />
<line x1="774.6" y1="375" x2="785" y2="391" stroke="#333" stroke-width="0.9" />
<path d="M785.50,391.50 L784.20,387.50 L786.80,387.50 Z" fill="#222"/>
<text x="713" y="417.28" font-size="13" text-anchor="start" fill="#1e1e1e" font-weight="normal" stroke="#1e1e1e" stroke-width="0.4" textLength="38" lengthAdjust="spacingAndGlyphs" >基准面</text>
<line x1="711" y1="420" x2="773.5" y2="420" stroke="#474747" stroke-width="0.9" />
<path d="M773.50,420.00 L767.50,418.50 L767.50,421.50 Z" fill="#222"/>
<line x1="773.5" y1="424" x2="773.5" y2="492" stroke="#555" stroke-width="0.8" />
<line x1="855" y1="424" x2="855" y2="492" stroke="#555" stroke-width="0.8" />
<line x1="781.4" y1="424" x2="781.4" y2="451" stroke="#555" stroke-width="0.8" />
<line x1="731.8" y1="446" x2="773.5" y2="446" stroke="#474747" stroke-width="0.9" />
<path d="M773.50,446.00 L767.50,444.50 L767.50,447.50 Z" fill="#222"/>
<path d="M781.40,446.00 L787.40,444.50 L787.40,447.50 Z" fill="#222"/>
<line x1="781.4" y1="446" x2="792.3" y2="446" stroke="#474747" stroke-width="0.9" />
<text x="734.5" y="443.20" font-size="12.5" text-anchor="start" fill="#1e1e1e" font-weight="normal" stroke="#1e1e1e" stroke-width="0.4" textLength="24.0" lengthAdjust="spacingAndGlyphs" >14. 5</text>
<line x1="698.4" y1="463.8" x2="814.2" y2="463.8" stroke="#474747" stroke-width="0.9" />
<path d="M814.20,463.80 L808.20,462.30 L808.20,465.30 Z" fill="#222"/>
<path d="M773.50,463.80 L779.50,462.30 L779.50,465.30 Z" fill="#222"/>
<text x="701.5" y="461.50" font-size="12.5" text-anchor="start" fill="#1e1e1e" font-weight="normal" stroke="#1e1e1e" stroke-width="0.4" textLength="63.7" lengthAdjust="spacingAndGlyphs" >84. 5±0. 05</text>
<line x1="773.5" y1="485.3" x2="855" y2="485.3" stroke="#474747" stroke-width="0.9" />
<path d="M773.50,485.30 L779.50,483.80 L779.50,486.80 Z" fill="#222"/>
<path d="M855.00,485.30 L849.00,483.80 L849.00,486.80 Z" fill="#222"/>
<text x="799.5" y="482.30" font-size="12.5" text-anchor="start" fill="#1e1e1e" font-weight="normal" stroke="#1e1e1e" stroke-width="0.4" textLength="29.5" lengthAdjust="spacingAndGlyphs" >169. 5</text>
<text x="791.3" y="503.78" font-size="10.5" text-anchor="start" fill="#1e1e1e" font-weight="normal" textLength="45.9" lengthAdjust="spacingAndGlyphs" >剖视图B-B</text>
<text x="696.3" y="296.88" font-size="13" text-anchor="start" fill="#1e1e1e" font-weight="normal" stroke="#1e1e1e" stroke-width="0.4" textLength="37.7" lengthAdjust="spacingAndGlyphs" >基准面</text>
<line x1="693.8" y1="299.8" x2="756" y2="299.8" stroke="#474747" stroke-width="0.9" />
<path d="M756.00,299.80 L750.00,298.30 L750.00,301.30 Z" fill="#222"/>
<rect x="370" y="635" width="152" height="80" fill="#e4e4e6" stroke="#262626" stroke-width="1.5" />
<line x1="371.5" y1="636.9" x2="516" y2="636.9" stroke="#fbfbfb" stroke-width="1.0" />
<line x1="371.5" y1="643.6" x2="516" y2="643.6" stroke="#fbfbfb" stroke-width="1.0" />
<line x1="371.5" y1="648.8" x2="516" y2="648.8" stroke="#fbfbfb" stroke-width="1.0" />
<line x1="371.5" y1="700.2" x2="516" y2="700.2" stroke="#fbfbfb" stroke-width="1.0" />
<line x1="371.5" y1="705.4" x2="516" y2="705.4" stroke="#fbfbfb" stroke-width="1.0" />
<line x1="371.5" y1="712.7" x2="516" y2="712.7" stroke="#fbfbfb" stroke-width="1.0" />
<line x1="371.7" y1="636" x2="371.7" y2="713.5" stroke="#fbfbfb" stroke-width="1.0" />
<rect x="370" y="644.7" width="152" height="3.3" fill="#5a5a5a" stroke="none" stroke-width="0" />
<line x1="370" y1="645.2" x2="522" y2="645.2" stroke="#1e1e1e" stroke-width="1.1" />
<line x1="370" y1="647.5" x2="522" y2="647.5" stroke="#1e1e1e" stroke-width="1.1" />
<rect x="370" y="701.0" width="152" height="3.6" fill="#5a5a5a" stroke="none" stroke-width="0" />
<line x1="370" y1="701.5" x2="522" y2="701.5" stroke="#1e1e1e" stroke-width="1.1" />
<line x1="370" y1="704.1" x2="522" y2="704.1" stroke="#1e1e1e" stroke-width="1.1" />
<line x1="370" y1="634.7" x2="522" y2="634.7" stroke="#1e1e1e" stroke-width="2.2" />
<line x1="370" y1="714.4" x2="522" y2="714.4" stroke="#1e1e1e" stroke-width="2.3" />
<line x1="408.4" y1="636" x2="408.4" y2="714" stroke="#555" stroke-width="0.8" stroke-dasharray="4,3"/>
<line x1="513" y1="636" x2="513" y2="714" stroke="#555" stroke-width="0.8" stroke-dasharray="4,3"/>
<line x1="516" y1="636" x2="516" y2="714" stroke="#555" stroke-width="0.8" stroke-dasharray="4,3"/>
<rect x="517" y="645" width="5" height="59" fill="#f2f2f2" stroke="#262626" stroke-width="1.0" />
<rect x="522" y="635" width="6.5" height="80" fill="#f2f2f2" stroke="#262626" stroke-width="1.3" />
<line x1="522" y1="645" x2="528.5" y2="645" stroke="#333" stroke-width="2" />
<line x1="522" y1="705" x2="528.5" y2="705" stroke="#333" stroke-width="2" />
<circle cx="519.5" cy="660.5" r="1.5" fill="#111" stroke="none" stroke-width="0"/>
<circle cx="519.5" cy="689" r="1.5" fill="#111" stroke="none" stroke-width="0"/>
<circle cx="443.4" cy="641.2" r="2.4" fill="#fff" stroke="#111" stroke-width="1.8"/>
<circle cx="443.4" cy="708.2" r="2.4" fill="#fff" stroke="#111" stroke-width="1.8"/>
<circle cx="491" cy="641.2" r="2.4" fill="#fff" stroke="#111" stroke-width="1.8"/>
<circle cx="491" cy="708.2" r="2.4" fill="#fff" stroke="#111" stroke-width="1.8"/>
<rect x="249" y="635" width="7" height="80" fill="#f0f0f0" stroke="#262626" stroke-width="1.3" />
<rect x="256" y="634.5" width="9.4" height="80.5" fill="#f0f0f0" stroke="#262626" stroke-width="1.3" />
<line x1="249" y1="644.5" x2="265.4" y2="644.5" stroke="#333" stroke-width="2" />
<line x1="249" y1="705.5" x2="265.4" y2="705.5" stroke="#333" stroke-width="2" />
<line x1="260.5" y1="645" x2="260.5" y2="705" stroke="#444" stroke-width="0.9" />
<line x1="263" y1="645" x2="263" y2="705" stroke="#444" stroke-width="0.9" />
<circle cx="259" cy="660.5" r="1.6" fill="#111" stroke="none" stroke-width="0"/>
<circle cx="259" cy="689" r="1.6" fill="#111" stroke="none" stroke-width="0"/>
<rect x="265.4" y="634.5" width="104.6" height="80.5" fill="#e4e4e6" stroke="#262626" stroke-width="1.6" />
<line x1="367.8" y1="636" x2="367.8" y2="713" stroke="#fbfbfb" stroke-width="1.0" />
<line x1="267" y1="712.7" x2="367.8" y2="712.7" stroke="#fbfbfb" stroke-width="1.0" />
<line x1="265.4" y1="634.7" x2="370.5" y2="634.7" stroke="#1e1e1e" stroke-width="2.2" />
<line x1="265.4" y1="714.4" x2="370.5" y2="714.4" stroke="#1e1e1e" stroke-width="2.3" />
<line x1="369.8" y1="634" x2="369.8" y2="715.3" stroke="#111" stroke-width="2.0" />
<rect x="281.5" y="634.8" width="72.8" height="6.2" fill="#ececec" stroke="#262626" stroke-width="1.3" />
<rect x="281.5" y="708.6" width="72.8" height="6.2" fill="#ececec" stroke="#262626" stroke-width="1.3" />
<circle cx="286.5" cy="637.8" r="2.2" fill="#bbb" stroke="#222" stroke-width="1.2"/>
<circle cx="286.5" cy="637.8" r="0.8" fill="#333" stroke="none" stroke-width="0"/>
<circle cx="286.5" cy="711.6" r="2.2" fill="#bbb" stroke="#222" stroke-width="1.2"/>
<circle cx="286.5" cy="711.6" r="0.8" fill="#333" stroke="none" stroke-width="0"/>
<circle cx="294" cy="637.8" r="2.2" fill="#bbb" stroke="#222" stroke-width="1.2"/>
<circle cx="294" cy="637.8" r="0.8" fill="#333" stroke="none" stroke-width="0"/>
<circle cx="294" cy="711.6" r="2.2" fill="#bbb" stroke="#222" stroke-width="1.2"/>
<circle cx="294" cy="711.6" r="0.8" fill="#333" stroke="none" stroke-width="0"/>
<circle cx="317.7" cy="637.8" r="1.7" fill="#111" stroke="none" stroke-width="0"/>
<circle cx="317.7" cy="711.6" r="1.7" fill="#111" stroke="none" stroke-width="0"/>
<circle cx="341.8" cy="637.8" r="2.2" fill="#bbb" stroke="#222" stroke-width="1.2"/>
<circle cx="341.8" cy="637.8" r="0.8" fill="#333" stroke="none" stroke-width="0"/>
<circle cx="341.8" cy="711.6" r="2.2" fill="#bbb" stroke="#222" stroke-width="1.2"/>
<circle cx="341.8" cy="711.6" r="0.8" fill="#333" stroke="none" stroke-width="0"/>
<circle cx="349.5" cy="637.8" r="2.2" fill="#bbb" stroke="#222" stroke-width="1.2"/>
<circle cx="349.5" cy="637.8" r="0.8" fill="#333" stroke="none" stroke-width="0"/>
<circle cx="349.5" cy="711.6" r="2.2" fill="#bbb" stroke="#222" stroke-width="1.2"/>
<circle cx="349.5" cy="711.6" r="0.8" fill="#333" stroke="none" stroke-width="0"/>
<circle cx="284.6" cy="643.2" r="2.1" fill="#111" stroke="none" stroke-width="0"/>
<circle cx="284.6" cy="705.5" r="2.1" fill="#111" stroke="none" stroke-width="0"/>
<circle cx="351.2" cy="643.2" r="2.1" fill="#111" stroke="none" stroke-width="0"/>
<circle cx="351.2" cy="705.5" r="2.1" fill="#111" stroke="none" stroke-width="0"/>
<line x1="460.5" y1="596" x2="460.5" y2="719" stroke="#444" stroke-width="0.8" stroke-dasharray="14,3,2,3"/>
<rect x="224.6" y="656.4" width="24.9" height="101" fill="#e4e4e6" stroke="#262626" stroke-width="1.6" rx="1.5"/>
<line x1="243.2" y1="656.4" x2="243.2" y2="757.4" stroke="#333" stroke-width="1.0" />
<line x1="244.9" y1="656.4" x2="244.9" y2="757.4" stroke="#555" stroke-width="0.8" />
<circle cx="224.8" cy="659.5" r="1.3" fill="#111" stroke="none" stroke-width="0"/>
<circle cx="224.8" cy="754.5" r="1.3" fill="#111" stroke="none" stroke-width="0"/>
<rect x="290.7" y="723" width="10.7" height="31.5" fill="#e4e4e6" stroke="#262626" stroke-width="1.3" />
<line x1="290.7" y1="745.3" x2="301.4" y2="745.3" stroke="#222" stroke-width="1.2" />
<rect x="292.5" y="747.5" width="7.5" height="5" fill="#f2f2f2" stroke="#262626" stroke-width="0.9" />
<rect x="249.6" y="722" width="42.9" height="28.9" fill="#e4e4e6" stroke="#262626" stroke-width="1.3" />
<line x1="252" y1="726" x2="290.7" y2="726" stroke="#333" stroke-width="2.8" />
<line x1="252" y1="747" x2="290.7" y2="747" stroke="#333" stroke-width="2.8" />
<line x1="289.6" y1="729" x2="289.6" y2="744" stroke="#222" stroke-width="1.4" />
<rect x="276.4" y="751" width="8.6" height="1.6" fill="#e4e4e6" stroke="#262626" stroke-width="0.9" />
<rect x="279" y="752.6" width="3" height="2.4" fill="#e4e4e6" stroke="#262626" stroke-width="0.8" />
<line x1="249.4" y1="571.9" x2="249.4" y2="634" stroke="#555" stroke-width="0.9" />
<line x1="528" y1="572" x2="528" y2="634" stroke="#555" stroke-width="0.9" />
<line x1="249.4" y1="577.8" x2="528" y2="577.8" stroke="#474747" stroke-width="0.9" />
<path d="M249.40,577.80 L255.40,576.30 L255.40,579.30 Z" fill="#222"/>
<path d="M528.00,577.80 L522.00,576.30 L522.00,579.30 Z" fill="#222"/>
<text x="388.8" y="575.72" font-size="12" text-anchor="middle" fill="#1e1e1e" font-weight="normal" stroke="#1e1e1e" stroke-width="0.4" >A</text>
<line x1="225" y1="592" x2="225" y2="655" stroke="#555" stroke-width="0.9" />
<line x1="225" y1="599.2" x2="249.4" y2="599.2" stroke="#474747" stroke-width="0.9" />
<path d="M225.00,599.20 L231.00,597.70 L231.00,600.70 Z" fill="#222"/>
<path d="M249.40,599.20 L243.40,597.70 L243.40,600.70 Z" fill="#222"/>
<text x="237.4" y="596.50" font-size="12.5" text-anchor="middle" fill="#1e1e1e" font-weight="normal" stroke="#1e1e1e" stroke-width="0.4" >50</text>
<line x1="318" y1="593" x2="318" y2="634" stroke="#555" stroke-width="0.9" />
<line x1="249.4" y1="599.2" x2="318" y2="599.2" stroke="#474747" stroke-width="0.9" />
<path d="M249.40,599.20 L255.40,597.70 L255.40,600.70 Z" fill="#222"/>
<path d="M318.00,599.20 L312.00,597.70 L312.00,600.70 Z" fill="#222"/>
<text x="251.7" y="596.50" font-size="12.5" text-anchor="start" fill="#1e1e1e" font-weight="normal" stroke="#1e1e1e" stroke-width="0.4" textLength="70.6" lengthAdjust="spacingAndGlyphs" >144（原点）</text>
<line x1="318" y1="599.2" x2="460.5" y2="599.2" stroke="#474747" stroke-width="0.9" />
<path d="M318.00,599.20 L324.00,597.70 L324.00,600.70 Z" fill="#222"/>
<path d="M460.50,599.20 L454.50,597.70 L454.50,600.70 Z" fill="#222"/>
<circle cx="365.8" cy="588.8" r="5.8" fill="#ef6a23" stroke="none" stroke-width="0"/>
<text x="365.8" y="592.52" font-size="9.5" text-anchor="middle" fill="#fff" font-weight="bold" >3</text>
<text x="375" y="593.12" font-size="12" text-anchor="middle" fill="#2a9ee0" font-weight="normal" stroke="#2a9ee0" stroke-width="0.4" >S</text>
<text x="379.4" y="593.30" font-size="12.5" text-anchor="start" fill="#1e1e1e" font-weight="normal" stroke="#1e1e1e" stroke-width="0.4" textLength="35.6" lengthAdjust="spacingAndGlyphs" >(行程)</text>
<line x1="460.5" y1="599.2" x2="528" y2="599.2" stroke="#474747" stroke-width="0.9" />
<path d="M460.50,599.20 L466.50,597.70 L466.50,600.70 Z" fill="#222"/>
<path d="M528.00,599.20 L522.00,597.70 L522.00,600.70 Z" fill="#222"/>
<text x="492.9" y="596.50" font-size="12.5" text-anchor="middle" fill="#1e1e1e" font-weight="normal" stroke="#1e1e1e" stroke-width="0.4" >142</text>
<line x1="134.5" y1="622.3" x2="249.4" y2="622.3" stroke="#474747" stroke-width="0.9" />
<path d="M249.40,622.30 L243.40,620.80 L243.40,623.80 Z" fill="#222"/>
<line x1="260.6" y1="615.5" x2="260.6" y2="633" stroke="#555" stroke-width="0.9" />
<path d="M260.60,622.30 L266.60,620.80 L266.60,623.80 Z" fill="#222"/>
<line x1="260.6" y1="622.3" x2="272.4" y2="622.3" stroke="#474747" stroke-width="0.9" />
<text x="136.5" y="618.50" font-size="12.5" text-anchor="start" fill="#1e1e1e" font-weight="normal" stroke="#1e1e1e" stroke-width="0.4" textLength="87.8" lengthAdjust="spacingAndGlyphs" >24（滑台极限）</text>
<line x1="504.6" y1="622" x2="517.5" y2="622" stroke="#474747" stroke-width="0.9" />
<path d="M517.50,622.00 L511.50,620.50 L511.50,623.50 Z" fill="#222"/>
<line x1="517.5" y1="615" x2="517.5" y2="633" stroke="#555" stroke-width="0.9" />
<path d="M528.00,622.00 L534.00,620.50 L534.00,623.50 Z" fill="#222"/>
<line x1="528" y1="622" x2="627.7" y2="622" stroke="#474747" stroke-width="0.9" />
<text x="543" y="618.30" font-size="12.5" text-anchor="start" fill="#1e1e1e" font-weight="normal" stroke="#1e1e1e" stroke-width="0.4" textLength="88.2" lengthAdjust="spacingAndGlyphs" >22（滑台极限）</text>
<text x="350" y="614.50" font-size="12.5" text-anchor="start" fill="#1e1e1e" font-weight="normal" stroke="#1e1e1e" stroke-width="0.4" textLength="78" lengthAdjust="spacingAndGlyphs" >2-φ6(H7)深15</text>
<line x1="337.7" y1="615.7" x2="428" y2="615.7" stroke="#474747" stroke-width="0.9" />
<line x1="337.7" y1="615.7" x2="319.5" y2="636" stroke="#333" stroke-width="0.9" />
<line x1="199.3" y1="637.4" x2="250" y2="637.4" stroke="#555" stroke-width="0.9" />
<line x1="199.3" y1="711.9" x2="250" y2="711.9" stroke="#555" stroke-width="0.9" />
<line x1="205.4" y1="637.4" x2="205.4" y2="711.9" stroke="#474747" stroke-width="0.9" />
<path d="M205.40,637.40 L203.90,643.40 L206.90,643.40 Z" fill="#222"/>
<path d="M205.40,711.90 L203.90,705.90 L206.90,705.90 Z" fill="#222"/>
<text x="198.9" y="678.90" font-size="12.5" text-anchor="middle" fill="#1e1e1e" font-weight="normal" stroke="#1e1e1e" stroke-width="0.4" transform="rotate(-90 198.9 674.4)" >156</text>
<line x1="286.4" y1="676" x2="286.4" y2="704" stroke="#555" stroke-width="0.9" />
<line x1="348.5" y1="676" x2="348.5" y2="704" stroke="#555" stroke-width="0.9" />
<line x1="293.6" y1="694" x2="293.6" y2="706" stroke="#555" stroke-width="0.9" />
<line x1="341.5" y1="694" x2="341.5" y2="706" stroke="#555" stroke-width="0.9" />
<line x1="286.4" y1="684.8" x2="348.5" y2="684.8" stroke="#474747" stroke-width="0.9" />
<path d="M286.40,684.80 L292.40,683.30 L292.40,686.30 Z" fill="#222"/>
<path d="M348.50,684.80 L342.50,683.30 L342.50,686.30 Z" fill="#222"/>
<text x="317.3" y="682.00" font-size="12.5" text-anchor="middle" fill="#1e1e1e" font-weight="normal" stroke="#1e1e1e" stroke-width="0.4" >132</text>
<line x1="293.6" y1="699.3" x2="341.5" y2="699.3" stroke="#474747" stroke-width="0.9" />
<path d="M293.60,699.30 L299.60,697.80 L299.60,700.80 Z" fill="#222"/>
<path d="M341.50,699.30 L335.50,697.80 L335.50,700.80 Z" fill="#222"/>
<text x="317.5" y="696.50" font-size="12.5" text-anchor="middle" fill="#1e1e1e" font-weight="normal" stroke="#1e1e1e" stroke-width="0.4" >100</text>
<line x1="265.4" y1="717" x2="265.4" y2="773.5" stroke="#555" stroke-width="0.9" />
<line x1="369.8" y1="717" x2="369.8" y2="773.5" stroke="#555" stroke-width="0.9" />
<line x1="265.4" y1="767.5" x2="369.8" y2="767.5" stroke="#474747" stroke-width="0.9" />
<path d="M265.40,767.50 L271.40,766.00 L271.40,769.00 Z" fill="#222"/>
<path d="M369.80,767.50 L363.80,766.00 L363.80,769.00 Z" fill="#222"/>
<text x="317.8" y="765.20" font-size="12.5" text-anchor="middle" fill="#1e1e1e" font-weight="normal" stroke="#1e1e1e" stroke-width="0.4" >220</text>
<text x="401.5" y="745.50" font-size="12.5" text-anchor="start" fill="#1e1e1e" font-weight="normal" stroke="#1e1e1e" stroke-width="0.4" textLength="50.5" lengthAdjust="spacingAndGlyphs" >8-M8深20</text>
<line x1="387.5" y1="748.5" x2="452" y2="748.5" stroke="#474747" stroke-width="0.9" />
<line x1="387.5" y1="748.5" x2="351.5" y2="714.5" stroke="#333" stroke-width="0.9" />
<text x="401.5" y="762.00" font-size="12.5" text-anchor="start" fill="#1e1e1e" font-weight="normal" stroke="#1e1e1e" stroke-width="0.4" textLength="38.5" lengthAdjust="spacingAndGlyphs" >φ6.8通</text>
<rect x="256" y="812.4" width="266.29999999999995" height="28.7" fill="#e4e4e6" stroke="#262626" stroke-width="1.2" />
<line x1="256" y1="812.8" x2="522.3" y2="812.8" stroke="#1a1a1a" stroke-width="2.4" />
<line x1="256" y1="817.3" x2="522.3" y2="817.3" stroke="#333" stroke-width="1.0" />
<line x1="256" y1="821.1" x2="522.3" y2="821.1" stroke="#1a1a1a" stroke-width="2.0" />
<line x1="256" y1="827.3" x2="522.3" y2="827.3" stroke="#1a1a1a" stroke-width="2.0" />
<line x1="256" y1="835.0" x2="522.3" y2="835.0" stroke="#1a1a1a" stroke-width="2.0" />
<line x1="256" y1="840.9" x2="522.3" y2="840.9" stroke="#1a1a1a" stroke-width="2.4" />
<rect x="522.3" y="811.1" width="5.7" height="30.8" fill="#f0f0f0" stroke="#262626" stroke-width="1.3" />
<line x1="522.3" y1="820.1" x2="528" y2="820.1" stroke="#333" stroke-width="2" />
<circle cx="520.5" cy="813.6" r="2.2" fill="#111" stroke="none" stroke-width="0"/>
<rect x="249" y="803.4" width="6.2" height="4.5" fill="#f0f0f0" stroke="#262626" stroke-width="1.2" />
<rect x="249" y="837.3" width="6.2" height="4" fill="#f0f0f0" stroke="#262626" stroke-width="1.2" />
<rect x="225.3" y="803.6" width="18.1" height="37.6" fill="#e4e4e6" stroke="#262626" stroke-width="1.6" />
<rect x="243.4" y="803.6" width="5.6" height="37.6" fill="#efefef" stroke="#262626" stroke-width="1.3" />
<circle cx="225.4" cy="814" r="1.1" fill="#111" stroke="none" stroke-width="0"/>
<circle cx="225.4" cy="829" r="1.1" fill="#111" stroke="none" stroke-width="0"/>
<rect x="265.1" y="803" width="104.7" height="9.4" fill="#e4e4e6" stroke="#262626" stroke-width="1.5" />
<rect x="281.5" y="801.6" width="72.2" height="9.5" fill="#e4e4e6" stroke="#262626" stroke-width="1.5" />
<circle cx="312.5" cy="810" r="1.8" fill="#111" stroke="none" stroke-width="0"/>
<line x1="300" y1="812.4" x2="370" y2="812.4" stroke="#1a1a1a" stroke-width="2.4" />
<rect x="250" y="808.5" width="40.8" height="28.3" fill="#e4e4e6" stroke="#262626" stroke-width="1.4" />
<line x1="251" y1="811.5" x2="290" y2="811.5" stroke="#333" stroke-width="1.6" />
<line x1="251" y1="833.8" x2="290" y2="833.8" stroke="#333" stroke-width="1.6" />
<rect x="290.8" y="809.8" width="10.6" height="24" fill="#e4e4e6" stroke="#262626" stroke-width="1.3" />
<path d="M291.5,812.5 L298,814 L297,822 L290.5,820.5 Z" fill="#e4e4e6" stroke="#262626" stroke-width="1.1" />
<rect x="277" y="818.4" width="7.9" height="11.2" fill="#fff" stroke="#262626" stroke-width="1.1" />
<rect x="279.5" y="821" width="3" height="6" fill="#fff" stroke="#262626" stroke-width="0.7" />
<line x1="255.5" y1="841.4" x2="301" y2="841.4" stroke="#1a1a1a" stroke-width="2.4" />
<line x1="255.5" y1="836.8" x2="301" y2="836.8" stroke="#333" stroke-width="1.0" />
<line x1="199" y1="803.5" x2="225" y2="803.5" stroke="#555" stroke-width="0.9" />
<line x1="199" y1="841.7" x2="225" y2="841.7" stroke="#555" stroke-width="0.9" />
<line x1="205.4" y1="803.5" x2="205.4" y2="841.7" stroke="#474747" stroke-width="0.9" />
<path d="M205.40,803.50 L203.90,809.50 L206.90,809.50 Z" fill="#222"/>
<path d="M205.40,841.70 L203.90,835.70 L206.90,835.70 Z" fill="#222"/>
<text x="198" y="826.80" font-size="12.5" text-anchor="middle" fill="#1e1e1e" font-weight="normal" stroke="#1e1e1e" stroke-width="0.4" transform="rotate(-90 198 822.3)" >80</text>
<line x1="530" y1="812.5" x2="559.6" y2="812.5" stroke="#555" stroke-width="0.9" />
<line x1="530" y1="842.4" x2="559.6" y2="842.4" stroke="#555" stroke-width="0.9" />
<line x1="553.4" y1="812.5" x2="553.4" y2="842.4" stroke="#474747" stroke-width="0.9" />
<path d="M553.40,812.50 L551.90,818.50 L554.90,818.50 Z" fill="#222"/>
<path d="M553.40,842.40 L551.90,836.40 L554.90,836.40 Z" fill="#222"/>
<text x="546.4" y="832.30" font-size="12.5" text-anchor="middle" fill="#1e1e1e" font-weight="normal" stroke="#1e1e1e" stroke-width="0.4" transform="rotate(-90 546.4 827.8)" >64</text>
<line x1="490.6" y1="804.3" x2="490.6" y2="852" stroke="#444" stroke-width="0.9" />
<line x1="466.4" y1="804.3" x2="490.6" y2="804.3" stroke="#444" stroke-width="0.9" />
<path d="M466.40,804.30 L472.40,802.80 L472.40,805.80 Z" fill="#222"/>
<line x1="466.4" y1="852" x2="490.6" y2="852" stroke="#444" stroke-width="0.9" />
<path d="M466.40,852.00 L472.40,850.50 L472.40,853.50 Z" fill="#222"/>
<text x="480.4" y="801.92" font-size="12" text-anchor="middle" fill="#1e1e1e" font-weight="normal" stroke="#1e1e1e" stroke-width="0.4" >B</text>
<text x="480.4" y="864.32" font-size="12" text-anchor="middle" fill="#1e1e1e" font-weight="normal" stroke="#1e1e1e" stroke-width="0.4" >B</text>
<rect x="255.3" y="945.3" width="267" height="79.5" fill="#e4e4e6" stroke="#262626" stroke-width="1.6" />
<rect x="249.0" y="945.3" width="6.3" height="79.5" fill="#f0f0f0" stroke="#262626" stroke-width="1.4" />
<rect x="522.3" y="945.8" width="5.4" height="78.5" fill="#f0f0f0" stroke="#262626" stroke-width="1.3" />
<line x1="255.3" y1="1009.0" x2="522.3" y2="1009.0" stroke="#222" stroke-width="1.6" />
<line x1="255.3" y1="999.8" x2="522.3" y2="999.8" stroke="#222" stroke-width="1.6" />
<line x1="255.3" y1="985.5" x2="522.3" y2="985.5" stroke="#222" stroke-width="1.6" />
<line x1="255.3" y1="970.9" x2="522.3" y2="970.9" stroke="#222" stroke-width="1.6" />
<line x1="255.3" y1="960.8" x2="522.3" y2="960.8" stroke="#222" stroke-width="1.6" />
<path d="M276.7,1014.6999999999999 L280.3,1018.3 L276.7,1021.9 L273.09999999999997,1018.3 Z" fill="#333"/>
<circle cx="276.7" cy="1018.3" r="2.2" fill="#2a2a2a" stroke="none" stroke-width="0"/>
<circle cx="276.7" cy="1018.3" r="1.2" fill="#8a9296" stroke="none" stroke-width="0"/>
<path d="M276.7,948.3 L280.3,951.9 L276.7,955.5 L273.09999999999997,951.9 Z" fill="#333"/>
<circle cx="276.7" cy="951.9" r="2.2" fill="#2a2a2a" stroke="none" stroke-width="0"/>
<circle cx="276.7" cy="951.9" r="1.2" fill="#8a9296" stroke="none" stroke-width="0"/>
<path d="M348.1,1014.6999999999999 L351.70000000000005,1018.3 L348.1,1021.9 L344.5,1018.3 Z" fill="#333"/>
<circle cx="348.1" cy="1018.3" r="2.2" fill="#2a2a2a" stroke="none" stroke-width="0"/>
<circle cx="348.1" cy="1018.3" r="1.2" fill="#8a9296" stroke="none" stroke-width="0"/>
<path d="M348.1,948.3 L351.70000000000005,951.9 L348.1,955.5 L344.5,951.9 Z" fill="#333"/>
<circle cx="348.1" cy="951.9" r="2.2" fill="#2a2a2a" stroke="none" stroke-width="0"/>
<circle cx="348.1" cy="951.9" r="1.2" fill="#8a9296" stroke="none" stroke-width="0"/>
<path d="M443.5,1014.6999999999999 L447.1,1018.3 L443.5,1021.9 L439.9,1018.3 Z" fill="#333"/>
<circle cx="443.5" cy="1018.3" r="2.2" fill="#2a2a2a" stroke="none" stroke-width="0"/>
<circle cx="443.5" cy="1018.3" r="1.2" fill="#8a9296" stroke="none" stroke-width="0"/>
<path d="M443.5,948.3 L447.1,951.9 L443.5,955.5 L439.9,951.9 Z" fill="#333"/>
<circle cx="443.5" cy="951.9" r="2.2" fill="#2a2a2a" stroke="none" stroke-width="0"/>
<circle cx="443.5" cy="951.9" r="1.2" fill="#8a9296" stroke="none" stroke-width="0"/>
<path d="M490.7,1014.6999999999999 L494.3,1018.3 L490.7,1021.9 L487.09999999999997,1018.3 Z" fill="#333"/>
<circle cx="490.7" cy="1018.3" r="2.2" fill="#2a2a2a" stroke="none" stroke-width="0"/>
<circle cx="490.7" cy="1018.3" r="1.2" fill="#8a9296" stroke="none" stroke-width="0"/>
<path d="M490.7,948.3 L494.3,951.9 L490.7,955.5 L487.09999999999997,951.9 Z" fill="#333"/>
<circle cx="490.7" cy="951.9" r="2.2" fill="#2a2a2a" stroke="none" stroke-width="0"/>
<circle cx="490.7" cy="951.9" r="1.2" fill="#8a9296" stroke="none" stroke-width="0"/>
<circle cx="276.7" cy="985.5" r="1.8" fill="#666" stroke="#222" stroke-width="0.8"/>
<circle cx="300.3" cy="985.5" r="1.8" fill="#666" stroke="#222" stroke-width="0.8"/>
<circle cx="490.7" cy="985.5" r="1.8" fill="#666" stroke="#222" stroke-width="0.8"/>
<rect x="225" y="902" width="24.2" height="101.8" fill="#e4e4e6" stroke="#262626" stroke-width="1.6" rx="1.5"/>
<line x1="243.7" y1="902" x2="243.7" y2="1003.8" stroke="#333" stroke-width="1.0" />
<circle cx="225.2" cy="905" r="1.3" fill="#111" stroke="none" stroke-width="0"/>
<circle cx="225.2" cy="1000.5" r="1.3" fill="#111" stroke="none" stroke-width="0"/>
<rect x="249.6" y="908.9" width="39.6" height="28.6" fill="#e4e4e6" stroke="#262626" stroke-width="1.3" />
<line x1="250.6" y1="912.6" x2="288.5" y2="912.6" stroke="#444" stroke-width="2.2" />
<line x1="250.6" y1="934" x2="288.5" y2="934" stroke="#444" stroke-width="2.2" />
<rect x="289.2" y="910" width="12.6" height="26.5" fill="#e4e4e6" stroke="#262626" stroke-width="1.3" />
<path d="M289.5,914 L291.5,913 L291.5,932 L289.5,931 Z" fill="#ddd" stroke="#262626" stroke-width="0.8" />
<rect x="277.8" y="905.3" width="7" height="3.6" fill="#e4e4e6" stroke="#262626" stroke-width="1.0" />
<rect x="280" y="903.3" width="2.5" height="2.2" fill="#e4e4e6" stroke="#262626" stroke-width="0.8" />
<rect x="290" y="905.5" width="10.5" height="4.5" fill="#e4e4e6" stroke="#262626" stroke-width="1.0" />
<line x1="245" y1="985" x2="255.3" y2="985" stroke="#444" stroke-width="0.8" />
<line x1="185" y1="902.9" x2="225" y2="902.9" stroke="#555" stroke-width="0.9" />
<line x1="185" y1="1024.9" x2="250" y2="1024.9" stroke="#555" stroke-width="0.9" />
<line x1="191.9" y1="902.9" x2="191.9" y2="1024.9" stroke="#474747" stroke-width="0.9" />
<path d="M191.90,902.90 L190.40,908.90 L193.40,908.90 Z" fill="#222"/>
<path d="M191.90,1024.90 L190.40,1018.90 L193.40,1018.90 Z" fill="#222"/>
<text x="185.6" y="968.00" font-size="12.5" text-anchor="middle" fill="#1e1e1e" font-weight="normal" stroke="#1e1e1e" stroke-width="0.4" transform="rotate(-90 185.6 963.5)" >260</text>
<line x1="204.5" y1="1004" x2="225" y2="1004" stroke="#555" stroke-width="0.9" />
<line x1="210.9" y1="904.9" x2="210.9" y2="1004" stroke="#474747" stroke-width="0.9" />
<path d="M210.90,904.90 L209.40,910.90 L212.40,910.90 Z" fill="#222"/>
<path d="M210.90,1004.00 L209.40,998.00 L212.40,998.00 Z" fill="#222"/>
<text x="203.3" y="956.60" font-size="12.5" text-anchor="middle" fill="#1e1e1e" font-weight="normal" stroke="#1e1e1e" stroke-width="0.4" transform="rotate(-90 203.3 952.1)" >215</text>
<line x1="276.5" y1="895" x2="276.5" y2="950" stroke="#555" stroke-width="0.9" />
<line x1="300.6" y1="878.8" x2="300.6" y2="985" stroke="#555" stroke-width="0.9" />
<line x1="276.5" y1="901.6" x2="300.6" y2="901.6" stroke="#474747" stroke-width="0.9" />
<path d="M276.50,901.60 L282.50,900.10 L282.50,903.10 Z" fill="#222"/>
<path d="M300.60,901.60 L294.60,900.10 L294.60,903.10 Z" fill="#222"/>
<text x="288.7" y="898.50" font-size="12.5" text-anchor="middle" fill="#1e1e1e" font-weight="normal" stroke="#1e1e1e" stroke-width="0.4" >50</text>
<line x1="300.6" y1="885.1" x2="490.9" y2="885.1" stroke="#474747" stroke-width="0.9" />
<path d="M300.60,885.10 L306.60,883.60 L306.60,886.60 Z" fill="#222"/>
<path d="M490.90,885.10 L484.90,883.60 L484.90,886.60 Z" fill="#222"/>
<text x="395.7" y="882.20" font-size="12.5" text-anchor="middle" fill="#1e1e1e" font-weight="normal" stroke="#1e1e1e" stroke-width="0.4" >P</text>
<line x1="490.9" y1="878" x2="490.9" y2="948" stroke="#555" stroke-width="0.9" />
<line x1="488.5" y1="922.3" x2="488.5" y2="985" stroke="#555" stroke-width="0.9" />
<line x1="493.5" y1="922.3" x2="493.5" y2="985" stroke="#555" stroke-width="0.9" />
<line x1="476.6" y1="928.6" x2="488.5" y2="928.6" stroke="#474747" stroke-width="0.9" />
<path d="M488.50,928.60 L482.50,927.10 L482.50,930.10 Z" fill="#222"/>
<path d="M493.50,928.60 L499.50,927.10 L499.50,930.10 Z" fill="#222"/>
<line x1="493.5" y1="928.6" x2="522.9" y2="928.6" stroke="#474747" stroke-width="0.9" />
<text x="513.7" y="925.10" font-size="12.5" text-anchor="middle" fill="#1e1e1e" font-weight="normal" stroke="#1e1e1e" stroke-width="0.4" >10</text>
<line x1="249.3" y1="1027" x2="249.3" y2="1065.7" stroke="#555" stroke-width="0.9" />
<line x1="276.5" y1="1027" x2="276.5" y2="1065.7" stroke="#555" stroke-width="0.9" />
<line x1="348" y1="1027" x2="348" y2="1065.7" stroke="#555" stroke-width="0.9" />
<line x1="443.4" y1="1027" x2="443.4" y2="1065.7" stroke="#555" stroke-width="0.9" />
<line x1="490.9" y1="1027" x2="490.9" y2="1065.7" stroke="#555" stroke-width="0.9" />
<line x1="528" y1="1027" x2="528" y2="1065.7" stroke="#555" stroke-width="0.9" />
<line x1="249.3" y1="1059.8" x2="276.5" y2="1059.8" stroke="#474747" stroke-width="0.9" />
<path d="M249.30,1059.80 L255.30,1058.30 L255.30,1061.30 Z" fill="#222"/>
<path d="M276.50,1059.80 L270.50,1058.30 L270.50,1061.30 Z" fill="#222"/>
<text x="262.7" y="1057.20" font-size="12.5" text-anchor="middle" fill="#1e1e1e" font-weight="normal" stroke="#1e1e1e" stroke-width="0.4" >58</text>
<line x1="276.5" y1="1059.8" x2="348" y2="1059.8" stroke="#474747" stroke-width="0.9" />
<path d="M276.50,1059.80 L282.50,1058.30 L282.50,1061.30 Z" fill="#222"/>
<path d="M348.00,1059.80 L342.00,1058.30 L342.00,1061.30 Z" fill="#222"/>
<text x="312" y="1057.20" font-size="12.5" text-anchor="middle" fill="#1e1e1e" font-weight="normal" stroke="#1e1e1e" stroke-width="0.4" >150</text>
<line x1="348" y1="1059.8" x2="443.4" y2="1059.8" stroke="#474747" stroke-width="0.9" />
<path d="M348.00,1059.80 L354.00,1058.30 L354.00,1061.30 Z" fill="#222"/>
<path d="M443.40,1059.80 L437.40,1058.30 L437.40,1061.30 Z" fill="#222"/>
<text x="395.7" y="1057.20" font-size="12.5" text-anchor="middle" fill="#1e1e1e" font-weight="normal" stroke="#1e1e1e" stroke-width="0.4" >M*200</text>
<line x1="443.4" y1="1059.8" x2="490.9" y2="1059.8" stroke="#474747" stroke-width="0.9" />
<path d="M443.40,1059.80 L449.40,1058.30 L449.40,1061.30 Z" fill="#222"/>
<path d="M490.90,1059.80 L484.90,1058.30 L484.90,1061.30 Z" fill="#222"/>
<text x="467" y="1057.20" font-size="12.5" text-anchor="middle" fill="#1e1e1e" font-weight="normal" stroke="#1e1e1e" stroke-width="0.4" >C</text>
<line x1="490.9" y1="1059.8" x2="528" y2="1059.8" stroke="#474747" stroke-width="0.9" />
<path d="M490.90,1059.80 L496.90,1058.30 L496.90,1061.30 Z" fill="#222"/>
<path d="M528.00,1059.80 L522.00,1058.30 L522.00,1061.30 Z" fill="#222"/>
<text x="509.1" y="1057.20" font-size="12.5" text-anchor="middle" fill="#1e1e1e" font-weight="normal" stroke="#1e1e1e" stroke-width="0.4" >(78)</text>
<line x1="497" y1="951.6" x2="580" y2="951.6" stroke="#555" stroke-width="0.9" />
<line x1="497" y1="1018.4" x2="580" y2="1018.4" stroke="#555" stroke-width="0.9" />
<line x1="574.3" y1="951.6" x2="574.3" y2="1018.4" stroke="#474747" stroke-width="0.9" />
<path d="M574.30,951.60 L572.80,957.60 L575.80,957.60 Z" fill="#222"/>
<path d="M574.30,1018.40 L572.80,1012.40 L575.80,1012.40 Z" fill="#222"/>
<text x="567" y="989.40" font-size="12.5" text-anchor="middle" fill="#1e1e1e" font-weight="normal" stroke="#1e1e1e" stroke-width="0.4" transform="rotate(-90 567 984.9)" >140</text>
<line x1="552.9" y1="877.7" x2="552.9" y2="998.6" stroke="#555" stroke-width="0.9" />
<line x1="493" y1="983.1" x2="559" y2="983.1" stroke="#555" stroke-width="0.9" />
<line x1="493" y1="986.7" x2="559" y2="986.7" stroke="#555" stroke-width="0.9" />
<line x1="494" y1="985" x2="540" y2="985" stroke="#333" stroke-width="1.4" />
<path d="M552.90,983.10 L551.40,978.10 L554.40,978.10 Z" fill="#222"/>
<path d="M552.90,986.70 L551.40,991.70 L554.40,991.70 Z" fill="#222"/>
<text x="544.7" y="939.50" font-size="12.5" text-anchor="middle" fill="#1e1e1e" font-weight="normal" stroke="#1e1e1e" stroke-width="0.4" transform="rotate(-90 544.7 935)" >6</text>
<text x="538" y="916.17" font-size="8.8" text-anchor="middle" fill="#1e1e1e" font-weight="normal" textLength="26.4" lengthAdjust="spacingAndGlyphs" transform="rotate(-90 538 913)" >+0.012</text>
<text x="546" y="921.94" font-size="9" text-anchor="middle" fill="#1e1e1e" font-weight="normal" transform="rotate(-90 546 918.7)" >0</text>
<text x="544.8" y="893.50" font-size="12.5" text-anchor="middle" fill="#1e1e1e" font-weight="normal" stroke="#1e1e1e" stroke-width="0.4" textLength="18.2" lengthAdjust="spacingAndGlyphs" transform="rotate(-90 544.8 889)" >深8</text>
<text x="145.7" y="1041.80" font-size="12.5" text-anchor="start" fill="#1e1e1e" font-weight="normal" stroke="#1e1e1e" stroke-width="0.4" textLength="71.5" lengthAdjust="spacingAndGlyphs" >2-φ6(H7)深8</text>
<line x1="145" y1="1043.1" x2="231" y2="1043.1" stroke="#474747" stroke-width="0.9" />
<line x1="231" y1="1043.1" x2="274.5" y2="987.5" stroke="#333" stroke-width="0.9" />
<text x="160.3" y="1068.50" font-size="12.5" text-anchor="start" fill="#1e1e1e" font-weight="normal" stroke="#1e1e1e" stroke-width="0.4" textLength="56.9" lengthAdjust="spacingAndGlyphs" >N-M10深20</text>
<line x1="160" y1="1072.2" x2="231" y2="1072.2" stroke="#474747" stroke-width="0.9" />
<line x1="231" y1="1072.2" x2="274.5" y2="1021" stroke="#333" stroke-width="0.9" />
<text x="178" y="1084.80" font-size="12.5" text-anchor="start" fill="#1e1e1e" font-weight="normal" stroke="#1e1e1e" stroke-width="0.4" textLength="39.2" lengthAdjust="spacingAndGlyphs" >φ8.5通</text>
<clipPath id="clipD-42_540"><circle cx="772.2" cy="677.0" r="36.5"/></clipPath>
<g clip-path="url(#clipD-42_540)">
<clipPath id="pD-42_540"><path d="M754.7,661.2 L756.5,659.3 L772.3,659.3 L772.3,666.3 L796,666.3 L796,673.3 L777.1,673.3 L777.1,715.2 L754.7,715.2 L754.7,696.0 L759.5,696.0 L759.5,701.0 L765.7,701.0 L765.7,667.6 L759.5,667.6 L759.5,672.9 L754.7,672.9 Z"/></clipPath>
<path d="M754.7,661.2 L756.5,659.3 L772.3,659.3 L772.3,666.3 L796,666.3 L796,673.3 L777.1,673.3 L777.1,715.2 L754.7,715.2 L754.7,696.0 L759.5,696.0 L759.5,701.0 L765.7,701.0 L765.7,667.6 L759.5,667.6 L759.5,672.9 L754.7,672.9 Z" fill="#e6e6e6" stroke="none"/>
<g clip-path="url(#pD-42_540)">
<line x1="685.0" y1="716.2" x2="745.0" y2="656.2" stroke="#333" stroke-width="0.9"/>
<line x1="691.3" y1="716.2" x2="751.3" y2="656.2" stroke="#333" stroke-width="0.9"/>
<line x1="697.6" y1="716.2" x2="757.6" y2="656.2" stroke="#333" stroke-width="0.9"/>
<line x1="703.9" y1="716.2" x2="763.9" y2="656.2" stroke="#333" stroke-width="0.9"/>
<line x1="710.2" y1="716.2" x2="770.2" y2="656.2" stroke="#333" stroke-width="0.9"/>
<line x1="716.5" y1="716.2" x2="776.5" y2="656.2" stroke="#333" stroke-width="0.9"/>
<line x1="722.8" y1="716.2" x2="782.8" y2="656.2" stroke="#333" stroke-width="0.9"/>
<line x1="729.1" y1="716.2" x2="789.1" y2="656.2" stroke="#333" stroke-width="0.9"/>
<line x1="735.4" y1="716.2" x2="795.4" y2="656.2" stroke="#333" stroke-width="0.9"/>
<line x1="741.7" y1="716.2" x2="801.7" y2="656.2" stroke="#333" stroke-width="0.9"/>
<line x1="748.0" y1="716.2" x2="808.0" y2="656.2" stroke="#333" stroke-width="0.9"/>
<line x1="754.3" y1="716.2" x2="814.3" y2="656.2" stroke="#333" stroke-width="0.9"/>
<line x1="760.6" y1="716.2" x2="820.6" y2="656.2" stroke="#333" stroke-width="0.9"/>
<line x1="766.9" y1="716.2" x2="826.9" y2="656.2" stroke="#333" stroke-width="0.9"/>
<line x1="773.2" y1="716.2" x2="833.2" y2="656.2" stroke="#333" stroke-width="0.9"/>
<line x1="779.5" y1="716.2" x2="839.5" y2="656.2" stroke="#333" stroke-width="0.9"/>
<line x1="785.8" y1="716.2" x2="845.8" y2="656.2" stroke="#333" stroke-width="0.9"/>
<line x1="792.1" y1="716.2" x2="852.1" y2="656.2" stroke="#333" stroke-width="0.9"/>
<line x1="798.4" y1="716.2" x2="858.4" y2="656.2" stroke="#333" stroke-width="0.9"/>
<line x1="804.7" y1="716.2" x2="864.7" y2="656.2" stroke="#333" stroke-width="0.9"/>
<line x1="811.0" y1="716.2" x2="871.0" y2="656.2" stroke="#333" stroke-width="0.9"/>
<line x1="817.3" y1="716.2" x2="877.3" y2="656.2" stroke="#333" stroke-width="0.9"/>
</g>
<path d="M754.7,661.2 L756.5,659.3 L772.3,659.3 L772.3,666.3 L796,666.3 L796,673.3 L777.1,673.3 L777.1,715.2 L754.7,715.2 L754.7,696.0 L759.5,696.0 L759.5,701.0 L765.7,701.0 L765.7,667.6 L759.5,667.6 L759.5,672.9 L754.7,672.9 Z" fill="none" stroke="#222" stroke-width="1.4"/>
<line x1="772.3" y1="659.3" x2="810" y2="659.3" stroke="#222" stroke-width="1.4" />
<line x1="742" y1="684.3" x2="789" y2="684.3" stroke="#444" stroke-width="0.8" stroke-dasharray="10,3,2,3"/>
</g>
<circle cx="772.2" cy="677.0" r="36.5" fill="none" stroke="#333" stroke-width="1.0"/>
<line x1="754.7" y1="603.2" x2="754.7" y2="659.2" stroke="#555" stroke-width="0.8" />
<line x1="759.6" y1="603.2" x2="759.6" y2="659.2" stroke="#555" stroke-width="0.8" />
<line x1="766" y1="622.6" x2="766" y2="659.2" stroke="#555" stroke-width="0.8" />
<line x1="693" y1="667.0" x2="754" y2="667.0" stroke="#555" stroke-width="0.8" />
<line x1="693" y1="701.0" x2="754" y2="701.0" stroke="#555" stroke-width="0.8" />
<line x1="717" y1="672.8" x2="754" y2="672.8" stroke="#555" stroke-width="0.8" />
<line x1="717" y1="695.8" x2="754" y2="695.8" stroke="#555" stroke-width="0.8" />
<line x1="698" y1="667.0" x2="698" y2="701.0" stroke="#474747" stroke-width="0.9" />
<path d="M698.00,667.00 L696.50,673.00 L699.50,673.00 Z" fill="#222"/>
<path d="M698.00,701.00 L696.50,695.00 L699.50,695.00 Z" fill="#222"/>
<text x="690.8" y="688.70" font-size="12.5" text-anchor="middle" fill="#1e1e1e" font-weight="normal" stroke="#1e1e1e" stroke-width="0.4" transform="rotate(-90 690.8 684.2)" >9</text>
<line x1="722" y1="672.8" x2="722" y2="695.8" stroke="#474747" stroke-width="0.9" />
<path d="M722.00,672.80 L720.50,678.80 L723.50,678.80 Z" fill="#222"/>
<path d="M722.00,695.80 L720.50,689.80 L723.50,689.80 Z" fill="#222"/>
<text x="714.8" y="688.70" font-size="12.5" text-anchor="middle" fill="#1e1e1e" font-weight="normal" stroke="#1e1e1e" stroke-width="0.4" transform="rotate(-90 714.8 684.2)" >6</text>
<line x1="719" y1="609.4" x2="754.7" y2="609.4" stroke="#474747" stroke-width="0.9" />
<path d="M754.70,609.40 L748.70,607.90 L748.70,610.90 Z" fill="#222"/>
<path d="M759.60,609.40 L765.60,607.90 L765.60,610.90 Z" fill="#222"/>
<line x1="759.6" y1="609.4" x2="771.2" y2="609.4" stroke="#474747" stroke-width="0.9" />
<text x="721" y="606.70" font-size="12.5" text-anchor="start" fill="#1e1e1e" font-weight="normal" stroke="#1e1e1e" stroke-width="0.4" textLength="19.5" lengthAdjust="spacingAndGlyphs" >1. 5</text>
<line x1="748" y1="628.4" x2="759.6" y2="628.4" stroke="#474747" stroke-width="0.9" />
<path d="M759.60,628.40 L753.60,626.90 L753.60,629.90 Z" fill="#222"/>
<path d="M766.00,628.40 L772.00,626.90 L772.00,629.90 Z" fill="#222"/>
<line x1="766" y1="628.4" x2="805.6" y2="628.4" stroke="#474747" stroke-width="0.9" />
<text x="784.5" y="625.70" font-size="12.5" text-anchor="start" fill="#1e1e1e" font-weight="normal" stroke="#1e1e1e" stroke-width="0.4" textLength="19.5" lengthAdjust="spacingAndGlyphs" >1. 5</text>
<text x="756.6" y="730.96" font-size="11" text-anchor="start" fill="#1e1e1e" font-weight="normal" textLength="36.4" lengthAdjust="spacingAndGlyphs" >放大图D</text>
<line x1="713.9" y1="782.0" x2="713.9" y2="799.7" stroke="#555" stroke-width="0.8" />
<line x1="794.7" y1="782.0" x2="794.7" y2="799.7" stroke="#555" stroke-width="0.8" />
<line x1="713.9" y1="787.8" x2="794.7" y2="787.8" stroke="#474747" stroke-width="0.9" />
<path d="M713.90,787.80 L719.90,786.30 L719.90,789.30 Z" fill="#222"/>
<path d="M794.70,787.80 L788.70,786.30 L788.70,789.30 Z" fill="#222"/>
<text x="754.0" y="785.40" font-size="12.5" text-anchor="middle" fill="#1e1e1e" font-weight="normal" stroke="#1e1e1e" stroke-width="0.4" >170</text>
<path d="M713.9,823.3 L716.0,821.6 L725.8,821.6 L725.8,813.3 L784.3,813.3 L784.3,821.6 L792.5,821.6 L794.7,823.3 L794.7,841.8 L793.0,843.6 L715.5,843.6 L713.9,841.8 Z" fill="#e4e4e6" stroke="#262626" stroke-width="1.5" />
<rect x="713.9" y="802.3" width="80.8" height="11" fill="#e4e4e6" stroke="#262626" stroke-width="1.6" rx="1"/>
<line x1="713.9" y1="802.9" x2="794.7" y2="802.9" stroke="#222" stroke-width="2.6" />
<circle cx="720.5" cy="826.9" r="3.2" fill="#2a2a2a" stroke="none" stroke-width="0"/>
<circle cx="720.5" cy="826.9" r="1.5" fill="#888" stroke="none" stroke-width="0"/>
<circle cx="787.0" cy="826.9" r="3.2" fill="#2a2a2a" stroke="none" stroke-width="0"/>
<circle cx="787.0" cy="826.9" r="1.5" fill="#888" stroke="none" stroke-width="0"/>
<circle cx="720.5" cy="839.0" r="3.2" fill="#2a2a2a" stroke="none" stroke-width="0"/>
<circle cx="720.5" cy="839.0" r="1.5" fill="#888" stroke="none" stroke-width="0"/>
<circle cx="754.5" cy="839.0" r="3.2" fill="#2a2a2a" stroke="none" stroke-width="0"/>
<circle cx="754.5" cy="839.0" r="1.5" fill="#888" stroke="none" stroke-width="0"/>
<circle cx="787.0" cy="839.0" r="3.2" fill="#2a2a2a" stroke="none" stroke-width="0"/>
<circle cx="787.0" cy="839.0" r="1.5" fill="#888" stroke="none" stroke-width="0"/>
<line x1="796.5" y1="802.3" x2="826.5" y2="802.3" stroke="#555" stroke-width="0.8" />
<line x1="796.5" y1="843.6" x2="826.5" y2="843.6" stroke="#555" stroke-width="0.8" />
<line x1="820.5" y1="802.3" x2="820.5" y2="843.6" stroke="#474747" stroke-width="0.9" />
<path d="M820.50,802.30 L819.00,808.30 L822.00,808.30 Z" fill="#222"/>
<path d="M820.50,843.60 L819.00,837.60 L822.00,837.60 Z" fill="#222"/>
<text x="812.5" y="826.10" font-size="12.5" text-anchor="middle" fill="#1e1e1e" font-weight="normal" stroke="#1e1e1e" stroke-width="0.4" transform="rotate(-90 812.5 821.6)" >87</text>
<path d="M731.0,947.5 L732.5,945.7 L811.0,945.7 L812.5,947.5 L812.5,954.5 L810.5,956.5 L812.5,958.5 L812.5,965.5 L811.0,967.5 L732.5,967.5 L731.0,965.5 L731.0,958.5 L733.0,956.5 L731.0,954.5 Z" fill="#e4e4e6" stroke="#262626" stroke-width="1.4" />
<clipPath id="hBB-42_541"><rect x="740.5" y="945.7" width="61.5" height="21.8"/></clipPath>
<g clip-path="url(#hBB-42_541)">
<line x1="707.3" y1="968.5" x2="730.3" y2="945.5" stroke="#444" stroke-width="0.8"/>
<line x1="713.6" y1="968.5" x2="736.6" y2="945.5" stroke="#444" stroke-width="0.8"/>
<line x1="719.9" y1="968.5" x2="742.9" y2="945.5" stroke="#444" stroke-width="0.8"/>
<line x1="726.2" y1="968.5" x2="749.2" y2="945.5" stroke="#444" stroke-width="0.8"/>
<line x1="732.5" y1="968.5" x2="755.5" y2="945.5" stroke="#444" stroke-width="0.8"/>
<line x1="738.8" y1="968.5" x2="761.8" y2="945.5" stroke="#444" stroke-width="0.8"/>
<line x1="745.1" y1="968.5" x2="768.1" y2="945.5" stroke="#444" stroke-width="0.8"/>
<line x1="751.4" y1="968.5" x2="774.4" y2="945.5" stroke="#444" stroke-width="0.8"/>
<line x1="757.7" y1="968.5" x2="780.7" y2="945.5" stroke="#444" stroke-width="0.8"/>
<line x1="764.0" y1="968.5" x2="787.0" y2="945.5" stroke="#444" stroke-width="0.8"/>
<line x1="770.3" y1="968.5" x2="793.3" y2="945.5" stroke="#444" stroke-width="0.8"/>
<line x1="776.6" y1="968.5" x2="799.6" y2="945.5" stroke="#444" stroke-width="0.8"/>
<line x1="782.9" y1="968.5" x2="805.9" y2="945.5" stroke="#444" stroke-width="0.8"/>
<line x1="789.2" y1="968.5" x2="812.2" y2="945.5" stroke="#444" stroke-width="0.8"/>
<line x1="795.5" y1="968.5" x2="818.5" y2="945.5" stroke="#444" stroke-width="0.8"/>
<line x1="801.8" y1="968.5" x2="824.8" y2="945.5" stroke="#444" stroke-width="0.8"/>
<line x1="808.1" y1="968.5" x2="831.1" y2="945.5" stroke="#444" stroke-width="0.8"/>
<line x1="814.4" y1="968.5" x2="837.4" y2="945.5" stroke="#444" stroke-width="0.8"/>
</g>
<line x1="740.5" y1="945.7" x2="740.5" y2="967.5" stroke="#222" stroke-width="1.2" />
<line x1="802.0" y1="945.7" x2="802.0" y2="967.5" stroke="#222" stroke-width="1.2" />
<line x1="735.5" y1="949.5" x2="735.5" y2="967.5" stroke="#333" stroke-width="0.9" />
<line x1="739.0" y1="949.5" x2="739.0" y2="967.5" stroke="#333" stroke-width="0.9" />
<line x1="804.5" y1="949.5" x2="804.5" y2="967.5" stroke="#333" stroke-width="0.9" />
<line x1="808.0" y1="949.5" x2="808.0" y2="967.5" stroke="#333" stroke-width="0.9" />
<rect x="734.0" y="947.0" width="6" height="3" fill="#ccc" stroke="#333" stroke-width="0.8" />
<rect x="803.0" y="947.0" width="6" height="3" fill="#ccc" stroke="#333" stroke-width="0.8" />
<rect x="770.0" y="963.0" width="3" height="3" fill="#fff" stroke="#222" stroke-width="0.9" />
<path d="M743.5,942.5 L744.5,937.7 L801.0,937.7 L802.0,939.5 L798.5,941.5 L797.5,945.5" fill="none" stroke="#222" stroke-width="1.4" />
<circle cx="744.0" cy="940.0" r="3.5" fill="none" stroke="#222" stroke-width="1.0"/>
<line x1="741.5" y1="941.5" x2="746.5" y2="945.7" stroke="#222" stroke-width="1.4" />
<line x1="771.7" y1="931.0" x2="771.7" y2="1015.5" stroke="#444" stroke-width="0.8" stroke-dasharray="12,3,2,3"/>
<text x="674.5" y="918.98" font-size="13" text-anchor="start" fill="#1e1e1e" font-weight="normal" stroke="#1e1e1e" stroke-width="0.4" textLength="45.0" lengthAdjust="spacingAndGlyphs" >放大图D</text>
<line x1="674.5" y1="919.5" x2="732.1" y2="919.5" stroke="#474747" stroke-width="0.9" />
<line x1="732.1" y1="919.5" x2="742.5" y2="935.5" stroke="#333" stroke-width="0.9" />
<path d="M743.00,936.00 L741.70,932.00 L744.30,932.00 Z" fill="#222"/>
<text x="670.5" y="961.78" font-size="13" text-anchor="start" fill="#1e1e1e" font-weight="normal" stroke="#1e1e1e" stroke-width="0.4" textLength="38.0" lengthAdjust="spacingAndGlyphs" >基准面</text>
<line x1="668.5" y1="964.5" x2="731.0" y2="964.5" stroke="#474747" stroke-width="0.9" />
<path d="M731.00,964.50 L725.00,963.00 L725.00,966.00 Z" fill="#222"/>
<line x1="731.0" y1="968.5" x2="731.0" y2="1036.5" stroke="#555" stroke-width="0.8" />
<line x1="812.5" y1="968.5" x2="812.5" y2="1036.5" stroke="#555" stroke-width="0.8" />
<line x1="738.9" y1="968.5" x2="738.9" y2="995.5" stroke="#555" stroke-width="0.8" />
<line x1="689.3" y1="990.5" x2="731.0" y2="990.5" stroke="#474747" stroke-width="0.9" />
<path d="M731.00,990.50 L725.00,989.00 L725.00,992.00 Z" fill="#222"/>
<path d="M738.90,990.50 L744.90,989.00 L744.90,992.00 Z" fill="#222"/>
<line x1="738.9" y1="990.5" x2="749.8" y2="990.5" stroke="#474747" stroke-width="0.9" />
<text x="692.0" y="987.70" font-size="12.5" text-anchor="start" fill="#1e1e1e" font-weight="normal" stroke="#1e1e1e" stroke-width="0.4" textLength="24.0" lengthAdjust="spacingAndGlyphs" >14. 5</text>
<line x1="655.9" y1="1005.6" x2="771.7" y2="1005.6" stroke="#474747" stroke-width="0.9" />
<path d="M771.70,1005.60 L765.70,1004.10 L765.70,1007.10 Z" fill="#222"/>
<path d="M731.00,1005.60 L737.00,1004.10 L737.00,1007.10 Z" fill="#222"/>
<text x="659.0" y="1003.30" font-size="12.5" text-anchor="start" fill="#1e1e1e" font-weight="normal" stroke="#1e1e1e" stroke-width="0.4" textLength="63.7" lengthAdjust="spacingAndGlyphs" >84. 5±0. 05</text>
<line x1="731.0" y1="1029.8" x2="812.5" y2="1029.8" stroke="#474747" stroke-width="0.9" />
<path d="M731.00,1029.80 L737.00,1028.30 L737.00,1031.30 Z" fill="#222"/>
<path d="M812.50,1029.80 L806.50,1028.30 L806.50,1031.30 Z" fill="#222"/>
<text x="757.0" y="1026.80" font-size="12.5" text-anchor="start" fill="#1e1e1e" font-weight="normal" stroke="#1e1e1e" stroke-width="0.4" textLength="29.5" lengthAdjust="spacingAndGlyphs" >169. 5</text>
<text x="748.8" y="1051.78" font-size="10.5" text-anchor="start" fill="#1e1e1e" font-weight="normal" textLength="45.9" lengthAdjust="spacingAndGlyphs" >剖视图B-B</text>
<rect x="670.9" y="803.4" width="43.1" height="38.2" fill="#e4e4e6" stroke="#262626" stroke-width="1.5" />
<rect x="678" y="808.2" width="29" height="28.6" rx="3" fill="#d8d8d8" stroke="#222" stroke-width="2.2" stroke-dasharray="2.5,1.2"/>
<circle cx="692.5" cy="822.3" r="11.4" fill="#e6e6e6" stroke="#333" stroke-width="1.2"/>
<rect x="674.5" y="812" width="3.5" height="17" fill="#e4e4e6" stroke="#262626" stroke-width="1.0" />
<text x="654.2" y="857.98" font-size="13" text-anchor="start" fill="#1e1e1e" font-weight="normal" stroke="#1e1e1e" stroke-width="0.4" textLength="37.0" lengthAdjust="spacingAndGlyphs" >基准面</text>
<line x1="650.3" y1="860" x2="696" y2="860" stroke="#474747" stroke-width="0.9" />
<line x1="696" y1="860" x2="712.7" y2="842.5" stroke="#333" stroke-width="0.9" />
<path d="M712.70,842.50 L711.40,846.50 L714.00,846.50 Z" fill="#222"/>
<g transform="translate(356.5,456.5) rotate(-45)" style="mix-blend-mode:multiply" fill="none" stroke="#d5ecf8" stroke-width="2.6" stroke-linejoin="round">
<mask id="mSw1" maskUnits="userSpaceOnUse" x="-40" y="-110" width="200" height="150"><rect x="-40" y="-110" width="200" height="150" fill="#fff"/><path d="M78.5,-61.25 L22,-61.25 Q7.75,-61.25 7.75,-48 Q7.75,-34.5 22,-34.5 L66,-34.5 Q80.25,-34.5 80.25,-21.25 Q80.25,-9.75 66,-9.75 L8,-9.75" fill="none" stroke="#000" stroke-width="12.9" stroke-linecap="square"/></mask>
<path d="M78.5,-61.25 L22,-61.25 Q7.75,-61.25 7.75,-48 Q7.75,-34.5 22,-34.5 L66,-34.5 Q80.25,-34.5 80.25,-21.25 Q80.25,-9.75 66,-9.75 L8,-9.75" stroke="#d5ecf8" stroke-width="18.1" stroke-linecap="square" mask="url(#mSw1)"/>
<path d="M92,-2 L118.5,-69 L141.5,-69 L182.5,-2 L160,-2 L153,-13 L113,-13 L109,-2 Z"/>
<path d="M128.5,-49.5 L144.5,-26.5 L107,-27.5 Z"/>
<path d="M185,-2 L185,-69 L208.5,-69 L236,-33 L263.5,-69 L287,-69 L287,-2 L263.5,-2 L263.5,-43 L237.5,-9 L208.5,-43 L208.5,-2 Z"/>
<path d="M290.7,-69 L313.7,-69 L313.7,-17 L365,-17 L365,-2 L290.7,-2 Z"/>
<path transform="translate(414.3,-35.5) scale(1,1)" d="M3.0,14.5 L3.0,33.5 L31.5,33.5 A15,15 0 0 0 46.5,18.5 L46.5,3.0 L21,3.0 L21,7.5 A7,7 0 0 1 14,14.5 Z"/>
<path transform="translate(414.3,-35.5) scale(-1,1)" d="M3.0,14.5 L3.0,33.5 L31.5,33.5 A15,15 0 0 0 46.5,18.5 L46.5,3.0 L21,3.0 L21,7.5 A7,7 0 0 1 14,14.5 Z"/>
<path transform="translate(414.3,-35.5) scale(1,-1)" d="M3.0,14.5 L3.0,33.5 L31.5,33.5 A15,15 0 0 0 46.5,18.5 L46.5,3.0 L21,3.0 L21,7.5 A7,7 0 0 1 14,14.5 Z"/>
<path transform="translate(414.3,-35.5) scale(-1,-1)" d="M3.0,14.5 L3.0,33.5 L31.5,33.5 A15,15 0 0 0 46.5,18.5 L46.5,3.0 L21,3.0 L21,7.5 A7,7 0 0 1 14,14.5 Z"/>
</g>
<g transform="translate(318.0,1003.5) rotate(-45)" style="mix-blend-mode:multiply" fill="none" stroke="#d5ecf8" stroke-width="2.6" stroke-linejoin="round">
<mask id="mSw2" maskUnits="userSpaceOnUse" x="-40" y="-110" width="200" height="150"><rect x="-40" y="-110" width="200" height="150" fill="#fff"/><path d="M78.5,-61.25 L22,-61.25 Q7.75,-61.25 7.75,-48 Q7.75,-34.5 22,-34.5 L66,-34.5 Q80.25,-34.5 80.25,-21.25 Q80.25,-9.75 66,-9.75 L8,-9.75" fill="none" stroke="#000" stroke-width="12.9" stroke-linecap="square"/></mask>
<path d="M78.5,-61.25 L22,-61.25 Q7.75,-61.25 7.75,-48 Q7.75,-34.5 22,-34.5 L66,-34.5 Q80.25,-34.5 80.25,-21.25 Q80.25,-9.75 66,-9.75 L8,-9.75" stroke="#d5ecf8" stroke-width="18.1" stroke-linecap="square" mask="url(#mSw2)"/>
<path d="M92,-2 L118.5,-69 L141.5,-69 L182.5,-2 L160,-2 L153,-13 L113,-13 L109,-2 Z"/>
<path d="M128.5,-49.5 L144.5,-26.5 L107,-27.5 Z"/>
<path d="M185,-2 L185,-69 L208.5,-69 L236,-33 L263.5,-69 L287,-69 L287,-2 L263.5,-2 L263.5,-43 L237.5,-9 L208.5,-43 L208.5,-2 Z"/>
<path d="M290.7,-69 L313.7,-69 L313.7,-17 L365,-17 L365,-2 L290.7,-2 Z"/>
<path transform="translate(414.3,-35.5) scale(1,1)" d="M3.0,14.5 L3.0,33.5 L31.5,33.5 A15,15 0 0 0 46.5,18.5 L46.5,3.0 L21,3.0 L21,7.5 A7,7 0 0 1 14,14.5 Z"/>
<path transform="translate(414.3,-35.5) scale(-1,1)" d="M3.0,14.5 L3.0,33.5 L31.5,33.5 A15,15 0 0 0 46.5,18.5 L46.5,3.0 L21,3.0 L21,7.5 A7,7 0 0 1 14,14.5 Z"/>
<path transform="translate(414.3,-35.5) scale(1,-1)" d="M3.0,14.5 L3.0,33.5 L31.5,33.5 A15,15 0 0 0 46.5,18.5 L46.5,3.0 L21,3.0 L21,7.5 A7,7 0 0 1 14,14.5 Z"/>
<path transform="translate(414.3,-35.5) scale(-1,-1)" d="M3.0,14.5 L3.0,33.5 L31.5,33.5 A15,15 0 0 0 46.5,18.5 L46.5,3.0 L21,3.0 L21,7.5 A7,7 0 0 1 14,14.5 Z"/>
</g>
</svg>
</body></html>
